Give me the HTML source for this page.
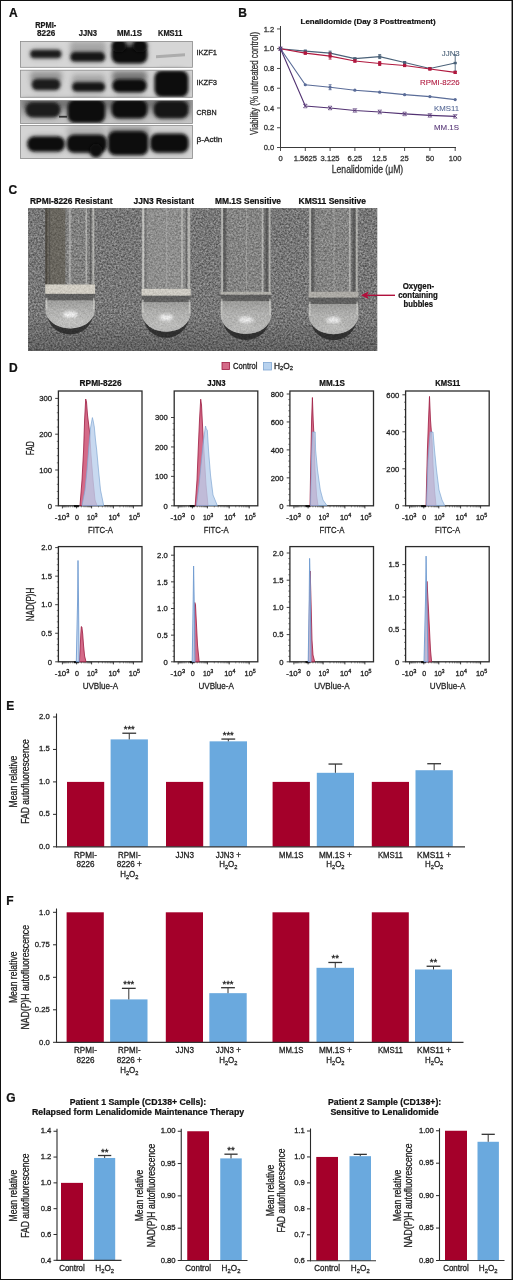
<!DOCTYPE html><html><head><meta charset="utf-8"><style>html,body{margin:0;padding:0;background:#fff;overflow:hidden;}svg{display:block;}</style></head><body>
<svg width="513" height="1280" viewBox="0 0 513 1280" style="will-change:transform" font-family='"Liberation Sans", sans-serif'>
<defs>
<filter id="bl1" x="-30%" y="-60%" width="160%" height="220%"><feGaussianBlur stdDeviation="1.6"/></filter>
<filter id="bl2" x="-30%" y="-60%" width="160%" height="220%"><feGaussianBlur stdDeviation="2.4"/></filter>
<filter id="bl05"><feGaussianBlur stdDeviation="0.6"/></filter>
<filter id="noise" x="0" y="0" width="100%" height="100%" color-interpolation-filters="sRGB">
 <feTurbulence type="fractalNoise" baseFrequency="0.55" numOctaves="3" seed="7" result="t"/>
 <feColorMatrix type="matrix" values="1.6 0 0 0 -0.3  1.6 0 0 0 -0.3  1.6 0 0 0 -0.3  0 0 0 0 1" result="m"/>
 <feComposite in="m" in2="SourceGraphic" operator="in"/>
</filter>
<linearGradient id="liq" x1="0" y1="0" x2="0" y2="1"><stop offset="0" stop-color="#929290"/><stop offset="0.45" stop-color="#b4b4b2"/><stop offset="1" stop-color="#d2d2d0"/></linearGradient>
<clipPath id="photo"><rect x="28" y="208" width="349.5" height="143"/></clipPath><linearGradient id="pshade" x1="0" y1="0" x2="0" y2="1"><stop offset="0" stop-color="#000" stop-opacity="0"/><stop offset="0.75" stop-color="#000" stop-opacity="0"/><stop offset="1" stop-color="#000" stop-opacity="0.2"/></linearGradient>
</defs>
<rect x="0.00" y="0.00" width="513.00" height="1280.00" fill="#ffffff"/>
<text x="8.90" y="17.20" font-size="12" text-anchor="start" font-weight="bold" fill="#111" stroke="#111" stroke-width="0.22">A</text>
<text x="238.30" y="17.20" font-size="12" text-anchor="start" font-weight="bold" fill="#111" stroke="#111" stroke-width="0.22">B</text>
<text x="8.50" y="194.00" font-size="12" text-anchor="start" font-weight="bold" fill="#111" stroke="#111" stroke-width="0.22">C</text>
<text x="9.00" y="372.20" font-size="12" text-anchor="start" font-weight="bold" fill="#111" stroke="#111" stroke-width="0.22">D</text>
<text x="6.30" y="709.90" font-size="12" text-anchor="start" font-weight="bold" fill="#111" stroke="#111" stroke-width="0.22">E</text>
<text x="6.30" y="905.40" font-size="12" text-anchor="start" font-weight="bold" fill="#111" stroke="#111" stroke-width="0.22">F</text>
<text x="6.30" y="1101.70" font-size="12" text-anchor="start" font-weight="bold" fill="#111" stroke="#111" stroke-width="0.22">G</text>
<defs><linearGradient id="s3g" x1="0" y1="0" x2="0" y2="1"><stop offset="0" stop-color="#9c9c9c"/><stop offset="0.6" stop-color="#b0b0b0"/><stop offset="1" stop-color="#c8c8c8"/></linearGradient><filter id="wb" x="-40%" y="-80%" width="180%" height="260%"><feGaussianBlur stdDeviation="1.7"/></filter><filter id="wb2" x="-40%" y="-80%" width="180%" height="260%"><feGaussianBlur stdDeviation="2.6"/></filter><clipPath id="wbclip"><rect x="20.5" y="41.5" width="172" height="25.8"/><rect x="20.5" y="70.2" width="172" height="27.1"/><rect x="20.5" y="100.4" width="172" height="23"/><rect x="20.5" y="125.5" width="172" height="33"/></clipPath></defs>
<rect x="20.50" y="41.50" width="172.00" height="25.80" fill="#d6d6d6"/>
<rect x="20.50" y="70.20" width="172.00" height="27.10" fill="#d3d3d3"/>
<rect x="20.50" y="100.40" width="172.00" height="23.00" fill="url(#s3g)"/>
<rect x="20.50" y="125.50" width="172.00" height="33.00" fill="#d4d4d4"/>
<g clip-path="url(#wbclip)">
<rect x="118" y="40" width="23" height="10" rx="4" fill="#6a6a6a" opacity="0.9" filter="url(#wb2)"/>
<rect x="70" y="41" width="36" height="13" rx="4" fill="#8a8a8a" opacity="0.6" filter="url(#wb2)"/>
<rect x="30" y="71" width="32" height="11" rx="4" fill="#7a7a7a" opacity="0.6" filter="url(#wb2)"/>
<rect x="112" y="71" width="35" height="11" rx="4" fill="#5a5a5a" opacity="0.7" filter="url(#wb2)"/>
<rect x="72" y="74" width="33" height="11" rx="4" fill="#8a8a8a" opacity="0.5" filter="url(#wb2)"/>
<rect x="22" y="99" width="168" height="10" rx="4" fill="#5a5a5a" opacity="0.6" filter="url(#wb2)"/>
<rect x="20" y="116" width="172" height="8" rx="4" fill="#c8c8c8" opacity="0.3" filter="url(#wb2)"/>
<rect x="108" y="126" width="42" height="10" rx="4" fill="#7a7a7a" opacity="0.55" filter="url(#wb2)"/>
<rect x="66" y="126" width="40" height="10" rx="4" fill="#9a9a9a" opacity="0.45" filter="url(#wb2)"/>
<rect x="29.60" y="48.30" width="32.40" height="11.30" rx="5.65" fill="#555" opacity="0.35" filter="url(#wb2)"/>
<rect x="69.60" y="50.40" width="36.20" height="12.90" rx="6.45" fill="#555" opacity="0.35" filter="url(#wb2)"/>
<rect x="110.90" y="44.50" width="37.10" height="20.50" rx="9.00" fill="#555" opacity="0.35" filter="url(#wb2)"/>
<rect x="110.90" y="38.00" width="16.10" height="16.00" rx="8.00" fill="#555" opacity="0.35" filter="url(#wb2)"/>
<rect x="132.00" y="38.00" width="16.00" height="16.00" rx="8.00" fill="#555" opacity="0.35" filter="url(#wb2)"/>
<rect x="111.50" y="77.50" width="36.00" height="16.50" rx="8.25" fill="#555" opacity="0.35" filter="url(#wb2)"/>
<rect x="31.00" y="77.30" width="30.10" height="14.30" rx="7.15" fill="#555" opacity="0.35" filter="url(#wb2)"/>
<rect x="71.40" y="80.50" width="34.40" height="12.80" rx="6.40" fill="#555" opacity="0.35" filter="url(#wb2)"/>
<rect x="153.90" y="69.00" width="35.00" height="29.50" rx="9.00" fill="#555" opacity="0.35" filter="url(#wb2)"/>
<rect x="24.90" y="100.50" width="36.20" height="18.50" rx="9.00" fill="#555" opacity="0.35" filter="url(#wb2)"/>
<rect x="67.00" y="98.00" width="38.80" height="26.50" rx="9.00" fill="#555" opacity="0.35" filter="url(#wb2)"/>
<rect x="110.90" y="98.00" width="37.10" height="22.00" rx="9.00" fill="#555" opacity="0.35" filter="url(#wb2)"/>
<rect x="153.00" y="99.00" width="36.20" height="21.00" rx="9.00" fill="#555" opacity="0.35" filter="url(#wb2)"/>
<rect x="26.60" y="134.80" width="38.90" height="18.50" rx="9.00" fill="#555" opacity="0.35" filter="url(#wb2)"/>
<rect x="66.10" y="133.00" width="41.50" height="21.30" rx="9.00" fill="#555" opacity="0.35" filter="url(#wb2)"/>
<rect x="89.00" y="142.00" width="14.00" height="17.00" rx="8.50" fill="#555" opacity="0.35" filter="url(#wb2)"/>
<rect x="107.40" y="129.50" width="41.50" height="27.30" rx="9.00" fill="#555" opacity="0.35" filter="url(#wb2)"/>
<rect x="149.50" y="132.00" width="39.70" height="22.30" rx="9.00" fill="#555" opacity="0.35" filter="url(#wb2)"/>
<rect x="30.40" y="50.00" width="30.80" height="7.90" rx="3.65" fill="#1a1a1a" filter="url(#wb)"/>
<rect x="70.40" y="52.10" width="34.60" height="9.50" rx="4.45" fill="#121212" filter="url(#wb)"/>
<rect x="111.70" y="46.20" width="35.50" height="17.10" rx="7.00" fill="#0a0a0a" filter="url(#wb)"/>
<rect x="111.70" y="39.70" width="14.50" height="12.60" rx="6.00" fill="#0e0e0e" filter="url(#wb)"/>
<rect x="132.80" y="39.70" width="14.40" height="12.60" rx="6.00" fill="#0e0e0e" filter="url(#wb)"/>
<rect x="112.30" y="79.20" width="34.40" height="13.10" rx="6.25" fill="#101010" filter="url(#wb)"/>
<rect x="31.80" y="79.00" width="28.50" height="10.90" rx="5.15" fill="#1c1c1c" filter="url(#wb)"/>
<rect x="72.20" y="82.20" width="32.80" height="9.40" rx="4.40" fill="#161616" filter="url(#wb)"/>
<rect x="154.70" y="70.70" width="33.40" height="26.10" rx="7.00" fill="#0c0c0c" filter="url(#wb)"/>
<rect x="25.70" y="102.20" width="34.60" height="15.10" rx="7.00" fill="#1c1c1c" filter="url(#wb)"/>
<rect x="67.80" y="99.70" width="37.20" height="23.10" rx="7.00" fill="#0c0c0c" filter="url(#wb)"/>
<rect x="111.70" y="99.70" width="35.50" height="18.60" rx="7.00" fill="#101010" filter="url(#wb)"/>
<rect x="153.80" y="100.70" width="34.60" height="17.60" rx="7.00" fill="#121212" filter="url(#wb)"/>
<rect x="27.40" y="136.50" width="37.30" height="15.10" rx="7.00" fill="#0e0e0e" filter="url(#wb)"/>
<rect x="66.90" y="134.70" width="39.90" height="17.90" rx="7.00" fill="#0a0a0a" filter="url(#wb)"/>
<rect x="89.80" y="143.70" width="12.40" height="13.60" rx="6.50" fill="#0e0e0e" filter="url(#wb)"/>
<rect x="108.20" y="131.20" width="39.90" height="23.90" rx="7.00" fill="#090909" filter="url(#wb)"/>
<rect x="150.30" y="133.70" width="38.10" height="18.90" rx="7.00" fill="#0c0c0c" filter="url(#wb)"/>
<path d="M156,55.2 L185,53.2 L185,56.2 L156,58.2 Z" fill="#acacac" filter="url(#bl05)"/>
<rect x="59" y="115.8" width="8" height="1.8" fill="#333" filter="url(#bl05)"/>
</g>
<rect x="20.50" y="41.50" width="172.00" height="25.80" fill="none" stroke="#8a8a8a" stroke-width="0.8"/>
<rect x="20.50" y="70.20" width="172.00" height="27.10" fill="none" stroke="#8a8a8a" stroke-width="0.8"/>
<rect x="20.50" y="100.40" width="172.00" height="23.00" fill="none" stroke="#8a8a8a" stroke-width="0.8"/>
<rect x="20.50" y="125.50" width="172.00" height="33.00" fill="none" stroke="#8a8a8a" stroke-width="0.8"/>
<text x="45.70" y="27.72" font-size="8.2" text-anchor="middle" font-weight="bold" textLength="21.00" lengthAdjust="spacingAndGlyphs" fill="#1a1a1a" stroke="#1a1a1a" stroke-width="0.22">RPMI-</text>
<text x="46.15" y="36.12" font-size="8.2" text-anchor="middle" font-weight="bold" textLength="18.10" lengthAdjust="spacingAndGlyphs" fill="#1a1a1a" stroke="#1a1a1a" stroke-width="0.22">8226</text>
<text x="87.95" y="36.12" font-size="8.2" text-anchor="middle" font-weight="bold" textLength="18.30" lengthAdjust="spacingAndGlyphs" fill="#1a1a1a" stroke="#1a1a1a" stroke-width="0.22">JJN3</text>
<text x="129.50" y="36.12" font-size="8.2" text-anchor="middle" font-weight="bold" textLength="25.00" lengthAdjust="spacingAndGlyphs" fill="#1a1a1a" stroke="#1a1a1a" stroke-width="0.22">MM.1S</text>
<text x="170.25" y="36.12" font-size="8.2" text-anchor="middle" font-weight="bold" textLength="24.50" lengthAdjust="spacingAndGlyphs" fill="#1a1a1a" stroke="#1a1a1a" stroke-width="0.22">KMS11</text>
<text x="196.40" y="54.94" font-size="8.1" text-anchor="start" textLength="20.60" lengthAdjust="spacingAndGlyphs" fill="#1a1a1a" stroke="#1a1a1a" stroke-width="0.28">IKZF1</text>
<text x="196.40" y="85.23" font-size="8.1" text-anchor="start" textLength="20.60" lengthAdjust="spacingAndGlyphs" fill="#1a1a1a" stroke="#1a1a1a" stroke-width="0.28">IKZF3</text>
<text x="196.40" y="115.23" font-size="8.1" text-anchor="start" textLength="20.20" lengthAdjust="spacingAndGlyphs" fill="#1a1a1a" stroke="#1a1a1a" stroke-width="0.28">CRBN</text>
<text x="196.40" y="142.14" font-size="8.1" text-anchor="start" textLength="26.00" lengthAdjust="spacingAndGlyphs" fill="#1a1a1a" stroke="#1a1a1a" stroke-width="0.28">β-Actin</text>
<line x1="280.50" y1="26.00" x2="280.50" y2="148.00" stroke="#3a3a3a" stroke-width="1"/>
<line x1="280.00" y1="147.50" x2="456.00" y2="147.50" stroke="#3a3a3a" stroke-width="1"/>
<line x1="277.00" y1="147.50" x2="280.50" y2="147.50" stroke="#3a3a3a" stroke-width="0.9"/>
<text x="274.20" y="150.10" font-size="7.6" text-anchor="end" fill="#333" stroke="#333" stroke-width="0.28">0.0</text>
<line x1="277.00" y1="127.74" x2="280.50" y2="127.74" stroke="#3a3a3a" stroke-width="0.9"/>
<text x="274.20" y="130.34" font-size="7.6" text-anchor="end" fill="#333" stroke="#333" stroke-width="0.28">0.2</text>
<line x1="277.00" y1="107.98" x2="280.50" y2="107.98" stroke="#3a3a3a" stroke-width="0.9"/>
<text x="274.20" y="110.58" font-size="7.6" text-anchor="end" fill="#333" stroke="#333" stroke-width="0.28">0.4</text>
<line x1="277.00" y1="88.22" x2="280.50" y2="88.22" stroke="#3a3a3a" stroke-width="0.9"/>
<text x="274.20" y="90.82" font-size="7.6" text-anchor="end" fill="#333" stroke="#333" stroke-width="0.28">0.6</text>
<line x1="277.00" y1="68.46" x2="280.50" y2="68.46" stroke="#3a3a3a" stroke-width="0.9"/>
<text x="274.20" y="71.06" font-size="7.6" text-anchor="end" fill="#333" stroke="#333" stroke-width="0.28">0.8</text>
<line x1="277.00" y1="48.70" x2="280.50" y2="48.70" stroke="#3a3a3a" stroke-width="0.9"/>
<text x="274.20" y="51.30" font-size="7.6" text-anchor="end" fill="#333" stroke="#333" stroke-width="0.28">1.0</text>
<line x1="277.00" y1="28.94" x2="280.50" y2="28.94" stroke="#3a3a3a" stroke-width="0.9"/>
<text x="274.20" y="31.54" font-size="7.6" text-anchor="end" fill="#333" stroke="#333" stroke-width="0.28">1.2</text>
<line x1="280.50" y1="147.50" x2="280.50" y2="151.00" stroke="#3a3a3a" stroke-width="0.9"/>
<text x="280.50" y="160.60" font-size="7.6" text-anchor="middle" fill="#333" stroke="#333" stroke-width="0.28">0</text>
<line x1="305.30" y1="147.50" x2="305.30" y2="151.00" stroke="#3a3a3a" stroke-width="0.9"/>
<text x="305.30" y="160.60" font-size="7.6" text-anchor="middle" fill="#333" stroke="#333" stroke-width="0.28">1.5625</text>
<line x1="330.10" y1="147.50" x2="330.10" y2="151.00" stroke="#3a3a3a" stroke-width="0.9"/>
<text x="330.10" y="160.60" font-size="7.6" text-anchor="middle" fill="#333" stroke="#333" stroke-width="0.28">3.125</text>
<line x1="354.90" y1="147.50" x2="354.90" y2="151.00" stroke="#3a3a3a" stroke-width="0.9"/>
<text x="354.90" y="160.60" font-size="7.6" text-anchor="middle" fill="#333" stroke="#333" stroke-width="0.28">6.25</text>
<line x1="379.70" y1="147.50" x2="379.70" y2="151.00" stroke="#3a3a3a" stroke-width="0.9"/>
<text x="379.70" y="160.60" font-size="7.6" text-anchor="middle" fill="#333" stroke="#333" stroke-width="0.28">12.5</text>
<line x1="404.60" y1="147.50" x2="404.60" y2="151.00" stroke="#3a3a3a" stroke-width="0.9"/>
<text x="404.60" y="160.60" font-size="7.6" text-anchor="middle" fill="#333" stroke="#333" stroke-width="0.28">25</text>
<line x1="429.90" y1="147.50" x2="429.90" y2="151.00" stroke="#3a3a3a" stroke-width="0.9"/>
<text x="429.90" y="160.60" font-size="7.6" text-anchor="middle" fill="#333" stroke="#333" stroke-width="0.28">50</text>
<line x1="455.20" y1="147.50" x2="455.20" y2="151.00" stroke="#3a3a3a" stroke-width="0.9"/>
<text x="455.20" y="160.60" font-size="7.6" text-anchor="middle" fill="#333" stroke="#333" stroke-width="0.28">100</text>
<text x="367.50" y="173.30" font-size="10.3" text-anchor="middle" textLength="71.40" lengthAdjust="spacingAndGlyphs" fill="#333" stroke="#333" stroke-width="0.28">Lenalidomide (μM)</text>
<text transform="translate(257.60,83.40) rotate(-90)" font-size="10.3" text-anchor="middle" textLength="103.00" lengthAdjust="spacingAndGlyphs" fill="#333" stroke="#333" stroke-width="0.28">Viability (% untreated control)</text>
<text x="300.60" y="23.90" font-size="8.1" text-anchor="start" font-weight="bold" textLength="135.00" lengthAdjust="spacingAndGlyphs" fill="#111" stroke="#111" stroke-width="0.22">Lenalidomide (Day 3 Posttreatment)</text>
<polyline points="280.5,48.70 305.3,51.17 330.1,53.15 354.9,58.58 379.7,56.60 404.6,62.53 429.9,68.46 455.2,63.03" fill="none" stroke="#4a6178" stroke-width="1.1"/>
<rect x="278.90" y="47.50" width="3.20" height="2.40" fill="#4a6178"/>
<line x1="305.30" y1="49.98" x2="305.30" y2="52.36" stroke="#4a6178" stroke-width="0.9"/>
<line x1="303.80" y1="49.98" x2="306.80" y2="49.98" stroke="#4a6178" stroke-width="0.9"/>
<line x1="303.80" y1="52.36" x2="306.80" y2="52.36" stroke="#4a6178" stroke-width="0.9"/>
<rect x="303.70" y="49.97" width="3.20" height="2.40" fill="#4a6178"/>
<line x1="330.10" y1="51.17" x2="330.10" y2="55.12" stroke="#4a6178" stroke-width="0.9"/>
<line x1="328.60" y1="51.17" x2="331.60" y2="51.17" stroke="#4a6178" stroke-width="0.9"/>
<line x1="328.60" y1="55.12" x2="331.60" y2="55.12" stroke="#4a6178" stroke-width="0.9"/>
<rect x="328.50" y="51.95" width="3.20" height="2.40" fill="#4a6178"/>
<line x1="354.90" y1="57.79" x2="354.90" y2="59.37" stroke="#4a6178" stroke-width="0.9"/>
<line x1="353.40" y1="57.79" x2="356.40" y2="57.79" stroke="#4a6178" stroke-width="0.9"/>
<line x1="353.40" y1="59.37" x2="356.40" y2="59.37" stroke="#4a6178" stroke-width="0.9"/>
<rect x="353.30" y="57.38" width="3.20" height="2.40" fill="#4a6178"/>
<line x1="379.70" y1="54.63" x2="379.70" y2="58.58" stroke="#4a6178" stroke-width="0.9"/>
<line x1="378.20" y1="54.63" x2="381.20" y2="54.63" stroke="#4a6178" stroke-width="0.9"/>
<line x1="378.20" y1="58.58" x2="381.20" y2="58.58" stroke="#4a6178" stroke-width="0.9"/>
<rect x="378.10" y="55.40" width="3.20" height="2.40" fill="#4a6178"/>
<line x1="404.60" y1="61.54" x2="404.60" y2="63.52" stroke="#4a6178" stroke-width="0.9"/>
<line x1="403.10" y1="61.54" x2="406.10" y2="61.54" stroke="#4a6178" stroke-width="0.9"/>
<line x1="403.10" y1="63.52" x2="406.10" y2="63.52" stroke="#4a6178" stroke-width="0.9"/>
<rect x="403.00" y="61.33" width="3.20" height="2.40" fill="#4a6178"/>
<line x1="429.90" y1="67.47" x2="429.90" y2="69.45" stroke="#4a6178" stroke-width="0.9"/>
<line x1="428.40" y1="67.47" x2="431.40" y2="67.47" stroke="#4a6178" stroke-width="0.9"/>
<line x1="428.40" y1="69.45" x2="431.40" y2="69.45" stroke="#4a6178" stroke-width="0.9"/>
<rect x="428.30" y="67.26" width="3.20" height="2.40" fill="#4a6178"/>
<line x1="455.20" y1="54.83" x2="455.20" y2="71.23" stroke="#4a6178" stroke-width="0.9"/>
<line x1="453.70" y1="54.83" x2="456.70" y2="54.83" stroke="#4a6178" stroke-width="0.9"/>
<line x1="453.70" y1="71.23" x2="456.70" y2="71.23" stroke="#4a6178" stroke-width="0.9"/>
<rect x="453.60" y="61.83" width="3.20" height="2.40" fill="#4a6178"/>
<polyline points="280.5,48.70 305.3,53.15 330.1,56.11 354.9,61.05 379.7,63.52 404.6,65.50 429.9,68.95 455.2,72.41" fill="none" stroke="#b0183e" stroke-width="1.1"/>
<rect x="278.90" y="47.10" width="3.20" height="3.20" fill="#b0183e"/>
<line x1="305.30" y1="52.16" x2="305.30" y2="54.13" stroke="#b0183e" stroke-width="0.9"/>
<line x1="303.80" y1="52.16" x2="306.80" y2="52.16" stroke="#b0183e" stroke-width="0.9"/>
<line x1="303.80" y1="54.13" x2="306.80" y2="54.13" stroke="#b0183e" stroke-width="0.9"/>
<rect x="303.70" y="51.55" width="3.20" height="3.20" fill="#b0183e"/>
<line x1="330.10" y1="53.15" x2="330.10" y2="59.07" stroke="#b0183e" stroke-width="0.9"/>
<line x1="328.60" y1="53.15" x2="331.60" y2="53.15" stroke="#b0183e" stroke-width="0.9"/>
<line x1="328.60" y1="59.07" x2="331.60" y2="59.07" stroke="#b0183e" stroke-width="0.9"/>
<rect x="328.50" y="54.51" width="3.20" height="3.20" fill="#b0183e"/>
<line x1="354.90" y1="60.06" x2="354.90" y2="62.04" stroke="#b0183e" stroke-width="0.9"/>
<line x1="353.40" y1="60.06" x2="356.40" y2="60.06" stroke="#b0183e" stroke-width="0.9"/>
<line x1="353.40" y1="62.04" x2="356.40" y2="62.04" stroke="#b0183e" stroke-width="0.9"/>
<rect x="353.30" y="59.45" width="3.20" height="3.20" fill="#b0183e"/>
<line x1="379.70" y1="61.54" x2="379.70" y2="65.50" stroke="#b0183e" stroke-width="0.9"/>
<line x1="378.20" y1="61.54" x2="381.20" y2="61.54" stroke="#b0183e" stroke-width="0.9"/>
<line x1="378.20" y1="65.50" x2="381.20" y2="65.50" stroke="#b0183e" stroke-width="0.9"/>
<rect x="378.10" y="61.92" width="3.20" height="3.20" fill="#b0183e"/>
<line x1="404.60" y1="64.51" x2="404.60" y2="66.48" stroke="#b0183e" stroke-width="0.9"/>
<line x1="403.10" y1="64.51" x2="406.10" y2="64.51" stroke="#b0183e" stroke-width="0.9"/>
<line x1="403.10" y1="66.48" x2="406.10" y2="66.48" stroke="#b0183e" stroke-width="0.9"/>
<rect x="403.00" y="63.90" width="3.20" height="3.20" fill="#b0183e"/>
<line x1="429.90" y1="67.97" x2="429.90" y2="69.94" stroke="#b0183e" stroke-width="0.9"/>
<line x1="428.40" y1="67.97" x2="431.40" y2="67.97" stroke="#b0183e" stroke-width="0.9"/>
<line x1="428.40" y1="69.94" x2="431.40" y2="69.94" stroke="#b0183e" stroke-width="0.9"/>
<rect x="428.30" y="67.35" width="3.20" height="3.20" fill="#b0183e"/>
<line x1="455.20" y1="71.42" x2="455.20" y2="73.40" stroke="#b0183e" stroke-width="0.9"/>
<line x1="453.70" y1="71.42" x2="456.70" y2="71.42" stroke="#b0183e" stroke-width="0.9"/>
<line x1="453.70" y1="73.40" x2="456.70" y2="73.40" stroke="#b0183e" stroke-width="0.9"/>
<rect x="453.60" y="70.81" width="3.20" height="3.20" fill="#b0183e"/>
<polyline points="280.5,48.70 305.3,84.76 330.1,87.23 354.9,90.20 379.7,92.17 404.6,94.64 429.9,96.62 455.2,99.58" fill="none" stroke="#5a6c98" stroke-width="1.1"/>
<circle cx="280.5" cy="48.70" r="1.6" fill="#5a6c98"/>
<circle cx="305.3" cy="84.76" r="1.6" fill="#5a6c98"/>
<line x1="330.10" y1="84.76" x2="330.10" y2="89.70" stroke="#5a6c98" stroke-width="0.9"/>
<line x1="328.60" y1="84.76" x2="331.60" y2="84.76" stroke="#5a6c98" stroke-width="0.9"/>
<line x1="328.60" y1="89.70" x2="331.60" y2="89.70" stroke="#5a6c98" stroke-width="0.9"/>
<circle cx="330.1" cy="87.23" r="1.6" fill="#5a6c98"/>
<circle cx="354.9" cy="90.20" r="1.6" fill="#5a6c98"/>
<circle cx="379.7" cy="92.17" r="1.6" fill="#5a6c98"/>
<circle cx="404.6" cy="94.64" r="1.6" fill="#5a6c98"/>
<circle cx="429.9" cy="96.62" r="1.6" fill="#5a6c98"/>
<circle cx="455.2" cy="99.58" r="1.6" fill="#5a6c98"/>
<polyline points="280.5,48.70 305.3,106.00 330.1,107.98 354.9,110.45 379.7,111.93 404.6,113.91 429.9,115.39 455.2,116.38" fill="none" stroke="#523272" stroke-width="1.1"/>
<path d="M278.7,46.900000000000006 L282.3,50.5 M278.7,50.5 L282.3,46.900000000000006" stroke="#523272" stroke-width="0.9"/>
<line x1="278.70" y1="46.90" x2="282.30" y2="46.90" stroke="#523272" stroke-width="0.6"/>
<line x1="278.70" y1="50.50" x2="282.30" y2="50.50" stroke="#523272" stroke-width="0.6"/>
<path d="M303.5,104.20400000000001 L307.1,107.804 M303.5,107.804 L307.1,104.20400000000001" stroke="#523272" stroke-width="0.9"/>
<line x1="303.50" y1="104.20" x2="307.10" y2="104.20" stroke="#523272" stroke-width="0.6"/>
<line x1="303.50" y1="107.80" x2="307.10" y2="107.80" stroke="#523272" stroke-width="0.6"/>
<path d="M328.3,106.17999999999999 L331.90000000000003,109.77999999999999 M328.3,109.77999999999999 L331.90000000000003,106.17999999999999" stroke="#523272" stroke-width="0.9"/>
<line x1="328.30" y1="106.18" x2="331.90" y2="106.18" stroke="#523272" stroke-width="0.6"/>
<line x1="328.30" y1="109.78" x2="331.90" y2="109.78" stroke="#523272" stroke-width="0.6"/>
<path d="M353.09999999999997,108.65 L356.7,112.25 M353.09999999999997,112.25 L356.7,108.65" stroke="#523272" stroke-width="0.9"/>
<line x1="353.10" y1="108.65" x2="356.70" y2="108.65" stroke="#523272" stroke-width="0.6"/>
<line x1="353.10" y1="112.25" x2="356.70" y2="112.25" stroke="#523272" stroke-width="0.6"/>
<path d="M377.9,110.132 L381.5,113.732 M377.9,113.732 L381.5,110.132" stroke="#523272" stroke-width="0.9"/>
<line x1="377.90" y1="110.13" x2="381.50" y2="110.13" stroke="#523272" stroke-width="0.6"/>
<line x1="377.90" y1="113.73" x2="381.50" y2="113.73" stroke="#523272" stroke-width="0.6"/>
<path d="M402.8,112.108 L406.40000000000003,115.708 M402.8,115.708 L406.40000000000003,112.108" stroke="#523272" stroke-width="0.9"/>
<line x1="402.80" y1="112.11" x2="406.40" y2="112.11" stroke="#523272" stroke-width="0.6"/>
<line x1="402.80" y1="115.71" x2="406.40" y2="115.71" stroke="#523272" stroke-width="0.6"/>
<path d="M428.09999999999997,113.59 L431.7,117.19 M428.09999999999997,117.19 L431.7,113.59" stroke="#523272" stroke-width="0.9"/>
<line x1="428.10" y1="113.59" x2="431.70" y2="113.59" stroke="#523272" stroke-width="0.6"/>
<line x1="428.10" y1="117.19" x2="431.70" y2="117.19" stroke="#523272" stroke-width="0.6"/>
<path d="M453.4,114.578 L457.0,118.178 M453.4,118.178 L457.0,114.578" stroke="#523272" stroke-width="0.9"/>
<line x1="453.40" y1="114.58" x2="457.00" y2="114.58" stroke="#523272" stroke-width="0.6"/>
<line x1="453.40" y1="118.18" x2="457.00" y2="118.18" stroke="#523272" stroke-width="0.6"/>
<text x="459.75" y="56.00" font-size="7.6" text-anchor="end" textLength="17.90" lengthAdjust="spacingAndGlyphs" fill="#4a6178" stroke="#4a6178" stroke-width="0.1">JJN3</text>
<text x="459.75" y="85.00" font-size="7.6" text-anchor="end" textLength="39.75" lengthAdjust="spacingAndGlyphs" fill="#b0183e" stroke="#b0183e" stroke-width="0.1">RPMI-8226</text>
<text x="459.00" y="111.40" font-size="7.6" text-anchor="end" textLength="25.00" lengthAdjust="spacingAndGlyphs" fill="#5a6c98" stroke="#5a6c98" stroke-width="0.1">KMS11</text>
<text x="459.00" y="129.70" font-size="7.6" text-anchor="end" textLength="25.00" lengthAdjust="spacingAndGlyphs" fill="#583878" stroke="#583878" stroke-width="0.1">MM.1S</text>
<g clip-path="url(#photo)">
<rect x="28.00" y="208.00" width="349.50" height="143.00" fill="#737373"/>
<rect x="28" y="208" width="349.5" height="143" fill="#fff" filter="url(#noise)" opacity="0.32"/>
<path d="M46.3,309.5 A23.85,19 0 0 0 94,309.5 L93,313.5 A21.85,20 0 0 1 47.3,313.5 Z" fill="#262626" opacity="0.8" filter="url(#bl05)"/>
<rect x="45.3" y="208" width="49.7" height="76.5" fill="#c4c4c0" opacity="0.12"/>
<rect x="45.30" y="208.00" width="20.00" height="76.50" fill="#4e4838" opacity="0.45"/>
<rect x="45.30" y="208.00" width="2.00" height="76.50" fill="#2e2a24" opacity="0.5"/>
<rect x="68.80" y="208.00" width="1.60" height="76.50" fill="#d8d8d4" opacity="0.45"/>
<rect x="48.90" y="208.00" width="1.20" height="76.50" fill="#3e3e3e" opacity="0.4"/>
<rect x="85.50" y="208.00" width="1.60" height="76.50" fill="#dcdcd8" opacity="0.5"/>
<rect x="92.40" y="208.00" width="1.80" height="76.50" fill="#d8d8d4" opacity="0.55"/>
<rect x="90.00" y="208.00" width="1.30" height="76.50" fill="#3a3a3a" opacity="0.45"/>
<rect x="70.15" y="208.00" width="1.20" height="76.50" fill="#d0d0cc" opacity="0.3"/>
<path d="M45.3,293.8 L95,293.8 L95,309.5 A24.85,19 0 0 1 45.3,309.5 Z" fill="url(#liq)"/>
<rect x="45.3" y="293.8" width="49.7" height="6.5" fill="#424242" opacity="0.7" filter="url(#bl05)"/>
<ellipse cx="70.2" cy="314.5" rx="7.5" ry="3.2" fill="#ffffff" opacity="0.95" filter="url(#bl1)"/>
<ellipse cx="70.2" cy="322.5" rx="14.9" ry="3" fill="#d8d8d6" opacity="0.6" filter="url(#bl1)"/>
<rect x="45.80" y="297.80" width="1.50" height="11.70" fill="#e4e4e0" opacity="0.6"/>
<rect x="93.00" y="297.80" width="1.50" height="11.70" fill="#e4e4e0" opacity="0.6"/>
<rect x="45.30" y="284.50" width="49.70" height="9.30" fill="#dcd8cc"/>
<rect x="45.3" y="284.5" width="49.7" height="44.0" fill="#fff" filter="url(#noise)" opacity="0.12" clip-path="url(#tc045)"/>
<clipPath id="tc045"><path d="M45.3,284.5 L95,284.5 L95,309.5 A24.85,19 0 0 1 45.3,309.5 Z"/></clipPath>
<path d="M142.6,312.8 A23.549999999999997,19 0 0 0 189.7,312.8 L188.7,316.8 A21.549999999999997,20 0 0 1 143.6,316.8 Z" fill="#262626" opacity="0.8" filter="url(#bl05)"/>
<rect x="141.6" y="208" width="49.099999999999994" height="80.80000000000001" fill="#c4c4c0" opacity="0.3"/>
<rect x="142.20" y="208.00" width="1.80" height="80.80" fill="#e2e2de" opacity="0.6"/>
<rect x="145.20" y="208.00" width="1.20" height="80.80" fill="#3e3e3e" opacity="0.4"/>
<rect x="181.20" y="208.00" width="1.60" height="80.80" fill="#dcdcd8" opacity="0.5"/>
<rect x="188.10" y="208.00" width="1.80" height="80.80" fill="#d8d8d4" opacity="0.55"/>
<rect x="185.70" y="208.00" width="1.30" height="80.80" fill="#3a3a3a" opacity="0.45"/>
<rect x="166.15" y="208.00" width="1.20" height="80.80" fill="#d0d0cc" opacity="0.3"/>
<path d="M141.6,295.6 L190.7,295.6 L190.7,312.8 A24.549999999999997,19 0 0 1 141.6,312.8 Z" fill="url(#liq)"/>
<rect x="141.6" y="295.6" width="49.099999999999994" height="6.5" fill="#424242" opacity="0.7" filter="url(#bl05)"/>
<ellipse cx="166.1" cy="317.8" rx="7.4" ry="3.2" fill="#ffffff" opacity="0.95" filter="url(#bl1)"/>
<ellipse cx="166.1" cy="325.8" rx="14.7" ry="3" fill="#d8d8d6" opacity="0.6" filter="url(#bl1)"/>
<rect x="142.10" y="299.60" width="1.50" height="13.20" fill="#e4e4e0" opacity="0.6"/>
<rect x="188.70" y="299.60" width="1.50" height="13.20" fill="#e4e4e0" opacity="0.6"/>
<rect x="141.60" y="288.80" width="49.10" height="6.80" fill="#d8d4cb"/>
<rect x="141.6" y="288.8" width="49.099999999999994" height="43.0" fill="#fff" filter="url(#noise)" opacity="0.12" clip-path="url(#tc1141)"/>
<clipPath id="tc1141"><path d="M141.6,288.8 L190.7,288.8 L190.7,312.8 A24.549999999999997,19 0 0 1 141.6,312.8 Z"/></clipPath>
<path d="M221.6,315 A24.299999999999997,19 0 0 0 270.2,315 L269.2,319 A22.299999999999997,20 0 0 1 222.6,319 Z" fill="#262626" opacity="0.8" filter="url(#bl05)"/>
<rect x="220.6" y="208" width="50.599999999999994" height="83.80000000000001" fill="#c4c4c0" opacity="0.16"/>
<rect x="221.60" y="208.00" width="5.00" height="83.80" fill="#3a3a3a" opacity="0.35"/>
<rect x="264.20" y="208.00" width="5.00" height="83.80" fill="#3a3a3a" opacity="0.35"/>
<rect x="221.20" y="208.00" width="1.80" height="83.80" fill="#e2e2de" opacity="0.6"/>
<rect x="224.20" y="208.00" width="1.20" height="83.80" fill="#3e3e3e" opacity="0.4"/>
<rect x="261.70" y="208.00" width="1.60" height="83.80" fill="#dcdcd8" opacity="0.5"/>
<rect x="268.60" y="208.00" width="1.80" height="83.80" fill="#d8d8d4" opacity="0.55"/>
<rect x="266.20" y="208.00" width="1.30" height="83.80" fill="#3a3a3a" opacity="0.45"/>
<rect x="245.90" y="208.00" width="1.20" height="83.80" fill="#d0d0cc" opacity="0.3"/>
<path d="M220.6,294.6 L271.2,294.6 L271.2,315.0 A25.299999999999997,19 0 0 1 220.6,315.0 Z" fill="url(#liq)"/>
<rect x="220.6" y="294.6" width="50.599999999999994" height="6.5" fill="#424242" opacity="0.7" filter="url(#bl05)"/>
<ellipse cx="245.9" cy="320.0" rx="7.6" ry="3.2" fill="#ffffff" opacity="0.95" filter="url(#bl1)"/>
<ellipse cx="245.9" cy="328.0" rx="15.2" ry="3" fill="#d8d8d6" opacity="0.6" filter="url(#bl1)"/>
<rect x="221.10" y="298.60" width="1.50" height="16.40" fill="#e4e4e0" opacity="0.6"/>
<rect x="269.20" y="298.60" width="1.50" height="16.40" fill="#e4e4e0" opacity="0.6"/>
<rect x="220.60" y="291.80" width="50.60" height="2.80" fill="#b6b4ae"/>
<rect x="220.6" y="291.8" width="50.599999999999994" height="42.19999999999999" fill="#fff" filter="url(#noise)" opacity="0.12" clip-path="url(#tc2220)"/>
<clipPath id="tc2220"><path d="M220.6,291.8 L271.2,291.8 L271.2,315.0 A25.299999999999997,19 0 0 1 220.6,315.0 Z"/></clipPath>
<path d="M309.6,315.3 A23.899999999999977,19 0 0 0 357.4,315.3 L356.4,319.3 A21.899999999999977,20 0 0 1 310.6,319.3 Z" fill="#262626" opacity="0.8" filter="url(#bl05)"/>
<rect x="308.6" y="208" width="49.799999999999955" height="83.80000000000001" fill="#c4c4c0" opacity="0.16"/>
<rect x="309.60" y="208.00" width="5.00" height="83.80" fill="#3a3a3a" opacity="0.35"/>
<rect x="351.40" y="208.00" width="5.00" height="83.80" fill="#3a3a3a" opacity="0.35"/>
<rect x="309.20" y="208.00" width="1.80" height="83.80" fill="#e2e2de" opacity="0.6"/>
<rect x="312.20" y="208.00" width="1.20" height="83.80" fill="#3e3e3e" opacity="0.4"/>
<rect x="348.90" y="208.00" width="1.60" height="83.80" fill="#dcdcd8" opacity="0.5"/>
<rect x="355.80" y="208.00" width="1.80" height="83.80" fill="#d8d8d4" opacity="0.55"/>
<rect x="353.40" y="208.00" width="1.30" height="83.80" fill="#3a3a3a" opacity="0.45"/>
<rect x="333.50" y="208.00" width="1.20" height="83.80" fill="#d0d0cc" opacity="0.3"/>
<path d="M308.6,297.5 L358.4,297.5 L358.4,315.3 A24.899999999999977,19 0 0 1 308.6,315.3 Z" fill="url(#liq)"/>
<rect x="308.6" y="297.5" width="49.799999999999955" height="6.5" fill="#424242" opacity="0.7" filter="url(#bl05)"/>
<ellipse cx="333.5" cy="320.3" rx="7.5" ry="3.2" fill="#ffffff" opacity="0.95" filter="url(#bl1)"/>
<ellipse cx="333.5" cy="328.3" rx="14.9" ry="3" fill="#d8d8d6" opacity="0.6" filter="url(#bl1)"/>
<rect x="309.10" y="301.50" width="1.50" height="13.80" fill="#e4e4e0" opacity="0.6"/>
<rect x="356.40" y="301.50" width="1.50" height="13.80" fill="#e4e4e0" opacity="0.6"/>
<rect x="308.60" y="291.80" width="49.80" height="5.70" fill="#b2b0aa"/>
<rect x="308.6" y="291.8" width="49.799999999999955" height="42.5" fill="#fff" filter="url(#noise)" opacity="0.12" clip-path="url(#tc2308)"/>
<clipPath id="tc2308"><path d="M308.6,291.8 L358.4,291.8 L358.4,315.3 A24.899999999999977,19 0 0 1 308.6,315.3 Z"/></clipPath>
<rect x="28" y="208" width="349.5" height="143" fill="url(#pshade)"/>
</g>
<text x="30.00" y="203.75" font-size="9" text-anchor="start" font-weight="bold" textLength="82.50" lengthAdjust="spacingAndGlyphs" fill="#111" stroke="#111" stroke-width="0.22">RPMI-8226 Resistant</text>
<text x="133.50" y="203.75" font-size="9" text-anchor="start" font-weight="bold" textLength="60.50" lengthAdjust="spacingAndGlyphs" fill="#111" stroke="#111" stroke-width="0.22">JJN3 Resistant</text>
<text x="215.00" y="203.75" font-size="9" text-anchor="start" font-weight="bold" textLength="66.00" lengthAdjust="spacingAndGlyphs" fill="#111" stroke="#111" stroke-width="0.22">MM.1S Sensitive</text>
<text x="298.50" y="203.75" font-size="9" text-anchor="start" font-weight="bold" textLength="67.50" lengthAdjust="spacingAndGlyphs" fill="#111" stroke="#111" stroke-width="0.22">KMS11 Sensitive</text>
<line x1="364.00" y1="295.30" x2="395.00" y2="295.30" stroke="#b0103c" stroke-width="1.4"/>
<path d="M361,295.3 L368.5,291.5 L367,295.3 L368.5,299.1 Z" fill="#b0103c"/>
<text x="418.40" y="288.60" font-size="8.3" text-anchor="middle" font-weight="bold" textLength="31.40" lengthAdjust="spacingAndGlyphs" fill="#111" stroke="#111" stroke-width="0.22">Oxygen-</text>
<text x="418.00" y="297.90" font-size="8.3" text-anchor="middle" font-weight="bold" textLength="39.50" lengthAdjust="spacingAndGlyphs" fill="#111" stroke="#111" stroke-width="0.22">containing</text>
<text x="418.30" y="307.10" font-size="8.3" text-anchor="middle" font-weight="bold" textLength="29.40" lengthAdjust="spacingAndGlyphs" fill="#111" stroke="#111" stroke-width="0.22">bubbles</text>
<rect x="222.00" y="362.50" width="7.50" height="7.00" fill="#d46a88" stroke="#9c1a40" stroke-width="0.8"/>
<text x="233.00" y="368.87" font-size="8.2" text-anchor="start" textLength="24.50" lengthAdjust="spacingAndGlyphs" fill="#222" stroke="#222" stroke-width="0.28">Control</text>
<rect x="263.50" y="362.50" width="8.00" height="7.50" fill="#b8d2ee" stroke="#7fa6d2" stroke-width="0.8"/>
<text x="274.00" y="368.87" font-size="8.2" text-anchor="start" textLength="19.00" lengthAdjust="spacingAndGlyphs" fill="#222" stroke="#222" stroke-width="0.28">H<tspan font-size="70%" dy="1.5">2</tspan><tspan dy="-1.5">O</tspan><tspan font-size="70%" dy="1.5">2</tspan></text>
<rect x="58.40" y="391.00" width="83.60" height="114.80" fill="none" stroke="#2b2b2b" stroke-width="1.3"/>
<line x1="55.20" y1="505.80" x2="58.40" y2="505.80" stroke="#2b2b2b" stroke-width="0.9"/>
<text x="52.00" y="508.50" font-size="7.7" text-anchor="end" fill="#222" stroke="#222" stroke-width="0.28">0</text>
<line x1="55.20" y1="470.00" x2="58.40" y2="470.00" stroke="#2b2b2b" stroke-width="0.9"/>
<text x="52.00" y="472.70" font-size="7.7" text-anchor="end" fill="#222" stroke="#222" stroke-width="0.28">100</text>
<line x1="55.20" y1="434.20" x2="58.40" y2="434.20" stroke="#2b2b2b" stroke-width="0.9"/>
<text x="52.00" y="436.90" font-size="7.7" text-anchor="end" fill="#222" stroke="#222" stroke-width="0.28">200</text>
<line x1="55.20" y1="398.40" x2="58.40" y2="398.40" stroke="#2b2b2b" stroke-width="0.9"/>
<text x="52.00" y="401.10" font-size="7.7" text-anchor="end" fill="#222" stroke="#222" stroke-width="0.28">300</text>
<line x1="56.80" y1="498.64" x2="58.40" y2="498.64" stroke="#2b2b2b" stroke-width="0.6"/>
<line x1="56.80" y1="491.48" x2="58.40" y2="491.48" stroke="#2b2b2b" stroke-width="0.6"/>
<line x1="56.80" y1="484.32" x2="58.40" y2="484.32" stroke="#2b2b2b" stroke-width="0.6"/>
<line x1="56.80" y1="477.16" x2="58.40" y2="477.16" stroke="#2b2b2b" stroke-width="0.6"/>
<line x1="56.80" y1="462.84" x2="58.40" y2="462.84" stroke="#2b2b2b" stroke-width="0.6"/>
<line x1="56.80" y1="455.68" x2="58.40" y2="455.68" stroke="#2b2b2b" stroke-width="0.6"/>
<line x1="56.80" y1="448.52" x2="58.40" y2="448.52" stroke="#2b2b2b" stroke-width="0.6"/>
<line x1="56.80" y1="441.36" x2="58.40" y2="441.36" stroke="#2b2b2b" stroke-width="0.6"/>
<line x1="56.80" y1="427.04" x2="58.40" y2="427.04" stroke="#2b2b2b" stroke-width="0.6"/>
<line x1="56.80" y1="419.88" x2="58.40" y2="419.88" stroke="#2b2b2b" stroke-width="0.6"/>
<line x1="56.80" y1="412.72" x2="58.40" y2="412.72" stroke="#2b2b2b" stroke-width="0.6"/>
<line x1="56.80" y1="405.56" x2="58.40" y2="405.56" stroke="#2b2b2b" stroke-width="0.6"/>
<line x1="62.40" y1="505.80" x2="62.40" y2="508.40" stroke="#2b2b2b" stroke-width="0.9"/>
<line x1="76.60" y1="505.80" x2="76.60" y2="508.40" stroke="#2b2b2b" stroke-width="0.9"/>
<line x1="91.60" y1="505.80" x2="91.60" y2="508.40" stroke="#2b2b2b" stroke-width="0.9"/>
<line x1="113.40" y1="505.80" x2="113.40" y2="508.40" stroke="#2b2b2b" stroke-width="0.9"/>
<line x1="133.40" y1="505.80" x2="133.40" y2="508.40" stroke="#2b2b2b" stroke-width="0.9"/>
<line x1="98.52" y1="505.80" x2="98.52" y2="507.40" stroke="#2b2b2b" stroke-width="0.5"/>
<line x1="102.40" y1="505.80" x2="102.40" y2="507.40" stroke="#2b2b2b" stroke-width="0.5"/>
<line x1="105.15" y1="505.80" x2="105.15" y2="507.40" stroke="#2b2b2b" stroke-width="0.5"/>
<line x1="107.28" y1="505.80" x2="107.28" y2="507.40" stroke="#2b2b2b" stroke-width="0.5"/>
<line x1="109.02" y1="505.80" x2="109.02" y2="507.40" stroke="#2b2b2b" stroke-width="0.5"/>
<line x1="110.49" y1="505.80" x2="110.49" y2="507.40" stroke="#2b2b2b" stroke-width="0.5"/>
<line x1="111.77" y1="505.80" x2="111.77" y2="507.40" stroke="#2b2b2b" stroke-width="0.5"/>
<line x1="112.89" y1="505.80" x2="112.89" y2="507.40" stroke="#2b2b2b" stroke-width="0.5"/>
<line x1="119.92" y1="505.80" x2="119.92" y2="507.40" stroke="#2b2b2b" stroke-width="0.5"/>
<line x1="123.44" y1="505.80" x2="123.44" y2="507.40" stroke="#2b2b2b" stroke-width="0.5"/>
<line x1="125.94" y1="505.80" x2="125.94" y2="507.40" stroke="#2b2b2b" stroke-width="0.5"/>
<line x1="127.88" y1="505.80" x2="127.88" y2="507.40" stroke="#2b2b2b" stroke-width="0.5"/>
<line x1="129.46" y1="505.80" x2="129.46" y2="507.40" stroke="#2b2b2b" stroke-width="0.5"/>
<line x1="130.80" y1="505.80" x2="130.80" y2="507.40" stroke="#2b2b2b" stroke-width="0.5"/>
<line x1="131.96" y1="505.80" x2="131.96" y2="507.40" stroke="#2b2b2b" stroke-width="0.5"/>
<line x1="132.98" y1="505.80" x2="132.98" y2="507.40" stroke="#2b2b2b" stroke-width="0.5"/>
<line x1="81.42" y1="505.80" x2="81.42" y2="507.40" stroke="#2b2b2b" stroke-width="0.5"/>
<line x1="84.06" y1="505.80" x2="84.06" y2="507.40" stroke="#2b2b2b" stroke-width="0.5"/>
<line x1="85.93" y1="505.80" x2="85.93" y2="507.40" stroke="#2b2b2b" stroke-width="0.5"/>
<line x1="87.38" y1="505.80" x2="87.38" y2="507.40" stroke="#2b2b2b" stroke-width="0.5"/>
<line x1="88.57" y1="505.80" x2="88.57" y2="507.40" stroke="#2b2b2b" stroke-width="0.5"/>
<line x1="89.58" y1="505.80" x2="89.58" y2="507.40" stroke="#2b2b2b" stroke-width="0.5"/>
<line x1="90.45" y1="505.80" x2="90.45" y2="507.40" stroke="#2b2b2b" stroke-width="0.5"/>
<line x1="91.21" y1="505.80" x2="91.21" y2="507.40" stroke="#2b2b2b" stroke-width="0.5"/>
<line x1="72.69" y1="505.80" x2="72.69" y2="507.40" stroke="#2b2b2b" stroke-width="0.5"/>
<line x1="70.22" y1="505.80" x2="70.22" y2="507.40" stroke="#2b2b2b" stroke-width="0.5"/>
<line x1="68.47" y1="505.80" x2="68.47" y2="507.40" stroke="#2b2b2b" stroke-width="0.5"/>
<line x1="67.11" y1="505.80" x2="67.11" y2="507.40" stroke="#2b2b2b" stroke-width="0.5"/>
<line x1="66.01" y1="505.80" x2="66.01" y2="507.40" stroke="#2b2b2b" stroke-width="0.5"/>
<line x1="65.07" y1="505.80" x2="65.07" y2="507.40" stroke="#2b2b2b" stroke-width="0.5"/>
<line x1="64.26" y1="505.80" x2="64.26" y2="507.40" stroke="#2b2b2b" stroke-width="0.5"/>
<line x1="63.54" y1="505.80" x2="63.54" y2="507.40" stroke="#2b2b2b" stroke-width="0.5"/>
<rect x="73.90" y="505.00" width="5" height="2.2" fill="#111"/>
<text x="54.80" y="519.90" font-size="7.1" text-anchor="start" textLength="14.50" lengthAdjust="spacingAndGlyphs" fill="#222" stroke="#222" stroke-width="0.28">-10<tspan font-size="72%" dy="-2.7">3</tspan></text>
<text x="77.00" y="519.90" font-size="7.1" text-anchor="middle" fill="#222" stroke="#222" stroke-width="0.28">0</text>
<text x="87.10" y="519.90" font-size="7.1" text-anchor="start" textLength="10.30" lengthAdjust="spacingAndGlyphs" fill="#222" stroke="#222" stroke-width="0.28">10<tspan font-size="72%" dy="-2.7">3</tspan></text>
<text x="108.40" y="519.90" font-size="7.1" text-anchor="start" textLength="11.30" lengthAdjust="spacingAndGlyphs" fill="#222" stroke="#222" stroke-width="0.28">10<tspan font-size="72%" dy="-2.7">4</tspan></text>
<text x="128.80" y="519.90" font-size="7.1" text-anchor="start" textLength="11.20" lengthAdjust="spacingAndGlyphs" fill="#222" stroke="#222" stroke-width="0.28">10<tspan font-size="72%" dy="-2.7">5</tspan></text>
<text x="100.40" y="532.90" font-size="9.9" text-anchor="middle" textLength="25.00" lengthAdjust="spacingAndGlyphs" fill="#222" stroke="#222" stroke-width="0.28">FITC-A</text>
<rect x="58.40" y="546.60" width="83.60" height="115.20" fill="none" stroke="#2b2b2b" stroke-width="1.3"/>
<line x1="55.20" y1="661.80" x2="58.40" y2="661.80" stroke="#2b2b2b" stroke-width="0.9"/>
<text x="52.00" y="664.50" font-size="7.7" text-anchor="end" fill="#222" stroke="#222" stroke-width="0.28">0</text>
<line x1="55.20" y1="633.25" x2="58.40" y2="633.25" stroke="#2b2b2b" stroke-width="0.9"/>
<text x="52.00" y="635.95" font-size="7.7" text-anchor="end" fill="#222" stroke="#222" stroke-width="0.28">0.5</text>
<line x1="55.20" y1="604.70" x2="58.40" y2="604.70" stroke="#2b2b2b" stroke-width="0.9"/>
<text x="52.00" y="607.40" font-size="7.7" text-anchor="end" fill="#222" stroke="#222" stroke-width="0.28">1.0</text>
<line x1="55.20" y1="576.15" x2="58.40" y2="576.15" stroke="#2b2b2b" stroke-width="0.9"/>
<text x="52.00" y="578.85" font-size="7.7" text-anchor="end" fill="#222" stroke="#222" stroke-width="0.28">1.5</text>
<line x1="55.20" y1="547.60" x2="58.40" y2="547.60" stroke="#2b2b2b" stroke-width="0.9"/>
<text x="52.00" y="550.30" font-size="7.7" text-anchor="end" fill="#222" stroke="#222" stroke-width="0.28">2.0</text>
<line x1="56.80" y1="656.09" x2="58.40" y2="656.09" stroke="#2b2b2b" stroke-width="0.6"/>
<line x1="56.80" y1="650.38" x2="58.40" y2="650.38" stroke="#2b2b2b" stroke-width="0.6"/>
<line x1="56.80" y1="644.67" x2="58.40" y2="644.67" stroke="#2b2b2b" stroke-width="0.6"/>
<line x1="56.80" y1="638.96" x2="58.40" y2="638.96" stroke="#2b2b2b" stroke-width="0.6"/>
<line x1="56.80" y1="627.54" x2="58.40" y2="627.54" stroke="#2b2b2b" stroke-width="0.6"/>
<line x1="56.80" y1="621.83" x2="58.40" y2="621.83" stroke="#2b2b2b" stroke-width="0.6"/>
<line x1="56.80" y1="616.12" x2="58.40" y2="616.12" stroke="#2b2b2b" stroke-width="0.6"/>
<line x1="56.80" y1="610.41" x2="58.40" y2="610.41" stroke="#2b2b2b" stroke-width="0.6"/>
<line x1="56.80" y1="598.99" x2="58.40" y2="598.99" stroke="#2b2b2b" stroke-width="0.6"/>
<line x1="56.80" y1="593.28" x2="58.40" y2="593.28" stroke="#2b2b2b" stroke-width="0.6"/>
<line x1="56.80" y1="587.57" x2="58.40" y2="587.57" stroke="#2b2b2b" stroke-width="0.6"/>
<line x1="56.80" y1="581.86" x2="58.40" y2="581.86" stroke="#2b2b2b" stroke-width="0.6"/>
<line x1="56.80" y1="570.44" x2="58.40" y2="570.44" stroke="#2b2b2b" stroke-width="0.6"/>
<line x1="56.80" y1="564.73" x2="58.40" y2="564.73" stroke="#2b2b2b" stroke-width="0.6"/>
<line x1="56.80" y1="559.02" x2="58.40" y2="559.02" stroke="#2b2b2b" stroke-width="0.6"/>
<line x1="56.80" y1="553.31" x2="58.40" y2="553.31" stroke="#2b2b2b" stroke-width="0.6"/>
<line x1="62.40" y1="661.80" x2="62.40" y2="664.40" stroke="#2b2b2b" stroke-width="0.9"/>
<line x1="76.60" y1="661.80" x2="76.60" y2="664.40" stroke="#2b2b2b" stroke-width="0.9"/>
<line x1="91.60" y1="661.80" x2="91.60" y2="664.40" stroke="#2b2b2b" stroke-width="0.9"/>
<line x1="113.40" y1="661.80" x2="113.40" y2="664.40" stroke="#2b2b2b" stroke-width="0.9"/>
<line x1="133.40" y1="661.80" x2="133.40" y2="664.40" stroke="#2b2b2b" stroke-width="0.9"/>
<line x1="98.52" y1="661.80" x2="98.52" y2="663.40" stroke="#2b2b2b" stroke-width="0.5"/>
<line x1="102.40" y1="661.80" x2="102.40" y2="663.40" stroke="#2b2b2b" stroke-width="0.5"/>
<line x1="105.15" y1="661.80" x2="105.15" y2="663.40" stroke="#2b2b2b" stroke-width="0.5"/>
<line x1="107.28" y1="661.80" x2="107.28" y2="663.40" stroke="#2b2b2b" stroke-width="0.5"/>
<line x1="109.02" y1="661.80" x2="109.02" y2="663.40" stroke="#2b2b2b" stroke-width="0.5"/>
<line x1="110.49" y1="661.80" x2="110.49" y2="663.40" stroke="#2b2b2b" stroke-width="0.5"/>
<line x1="111.77" y1="661.80" x2="111.77" y2="663.40" stroke="#2b2b2b" stroke-width="0.5"/>
<line x1="112.89" y1="661.80" x2="112.89" y2="663.40" stroke="#2b2b2b" stroke-width="0.5"/>
<line x1="119.92" y1="661.80" x2="119.92" y2="663.40" stroke="#2b2b2b" stroke-width="0.5"/>
<line x1="123.44" y1="661.80" x2="123.44" y2="663.40" stroke="#2b2b2b" stroke-width="0.5"/>
<line x1="125.94" y1="661.80" x2="125.94" y2="663.40" stroke="#2b2b2b" stroke-width="0.5"/>
<line x1="127.88" y1="661.80" x2="127.88" y2="663.40" stroke="#2b2b2b" stroke-width="0.5"/>
<line x1="129.46" y1="661.80" x2="129.46" y2="663.40" stroke="#2b2b2b" stroke-width="0.5"/>
<line x1="130.80" y1="661.80" x2="130.80" y2="663.40" stroke="#2b2b2b" stroke-width="0.5"/>
<line x1="131.96" y1="661.80" x2="131.96" y2="663.40" stroke="#2b2b2b" stroke-width="0.5"/>
<line x1="132.98" y1="661.80" x2="132.98" y2="663.40" stroke="#2b2b2b" stroke-width="0.5"/>
<line x1="81.42" y1="661.80" x2="81.42" y2="663.40" stroke="#2b2b2b" stroke-width="0.5"/>
<line x1="84.06" y1="661.80" x2="84.06" y2="663.40" stroke="#2b2b2b" stroke-width="0.5"/>
<line x1="85.93" y1="661.80" x2="85.93" y2="663.40" stroke="#2b2b2b" stroke-width="0.5"/>
<line x1="87.38" y1="661.80" x2="87.38" y2="663.40" stroke="#2b2b2b" stroke-width="0.5"/>
<line x1="88.57" y1="661.80" x2="88.57" y2="663.40" stroke="#2b2b2b" stroke-width="0.5"/>
<line x1="89.58" y1="661.80" x2="89.58" y2="663.40" stroke="#2b2b2b" stroke-width="0.5"/>
<line x1="90.45" y1="661.80" x2="90.45" y2="663.40" stroke="#2b2b2b" stroke-width="0.5"/>
<line x1="91.21" y1="661.80" x2="91.21" y2="663.40" stroke="#2b2b2b" stroke-width="0.5"/>
<line x1="72.69" y1="661.80" x2="72.69" y2="663.40" stroke="#2b2b2b" stroke-width="0.5"/>
<line x1="70.22" y1="661.80" x2="70.22" y2="663.40" stroke="#2b2b2b" stroke-width="0.5"/>
<line x1="68.47" y1="661.80" x2="68.47" y2="663.40" stroke="#2b2b2b" stroke-width="0.5"/>
<line x1="67.11" y1="661.80" x2="67.11" y2="663.40" stroke="#2b2b2b" stroke-width="0.5"/>
<line x1="66.01" y1="661.80" x2="66.01" y2="663.40" stroke="#2b2b2b" stroke-width="0.5"/>
<line x1="65.07" y1="661.80" x2="65.07" y2="663.40" stroke="#2b2b2b" stroke-width="0.5"/>
<line x1="64.26" y1="661.80" x2="64.26" y2="663.40" stroke="#2b2b2b" stroke-width="0.5"/>
<line x1="63.54" y1="661.80" x2="63.54" y2="663.40" stroke="#2b2b2b" stroke-width="0.5"/>
<rect x="73.90" y="661.00" width="5" height="2.2" fill="#111"/>
<text x="54.80" y="675.90" font-size="7.1" text-anchor="start" textLength="14.50" lengthAdjust="spacingAndGlyphs" fill="#222" stroke="#222" stroke-width="0.28">-10<tspan font-size="72%" dy="-2.7">3</tspan></text>
<text x="77.00" y="675.90" font-size="7.1" text-anchor="middle" fill="#222" stroke="#222" stroke-width="0.28">0</text>
<text x="87.10" y="675.90" font-size="7.1" text-anchor="start" textLength="10.30" lengthAdjust="spacingAndGlyphs" fill="#222" stroke="#222" stroke-width="0.28">10<tspan font-size="72%" dy="-2.7">3</tspan></text>
<text x="108.40" y="675.90" font-size="7.1" text-anchor="start" textLength="11.30" lengthAdjust="spacingAndGlyphs" fill="#222" stroke="#222" stroke-width="0.28">10<tspan font-size="72%" dy="-2.7">4</tspan></text>
<text x="128.80" y="675.90" font-size="7.1" text-anchor="start" textLength="11.20" lengthAdjust="spacingAndGlyphs" fill="#222" stroke="#222" stroke-width="0.28">10<tspan font-size="72%" dy="-2.7">5</tspan></text>
<text x="100.40" y="689.00" font-size="9.9" text-anchor="middle" textLength="35.50" lengthAdjust="spacingAndGlyphs" fill="#222" stroke="#222" stroke-width="0.28">UVBlue-A</text>
<text x="100.60" y="386.00" font-size="8.2" text-anchor="middle" font-weight="bold" textLength="42.00" lengthAdjust="spacingAndGlyphs" fill="#111" stroke="#111" stroke-width="0.22">RPMI-8226</text>
<rect x="174.20" y="391.00" width="83.60" height="114.80" fill="none" stroke="#2b2b2b" stroke-width="1.3"/>
<line x1="171.00" y1="505.80" x2="174.20" y2="505.80" stroke="#2b2b2b" stroke-width="0.9"/>
<text x="167.80" y="508.50" font-size="7.7" text-anchor="end" fill="#222" stroke="#222" stroke-width="0.28">0</text>
<line x1="171.00" y1="476.37" x2="174.20" y2="476.37" stroke="#2b2b2b" stroke-width="0.9"/>
<text x="167.80" y="479.07" font-size="7.7" text-anchor="end" fill="#222" stroke="#222" stroke-width="0.28">100</text>
<line x1="171.00" y1="446.94" x2="174.20" y2="446.94" stroke="#2b2b2b" stroke-width="0.9"/>
<text x="167.80" y="449.64" font-size="7.7" text-anchor="end" fill="#222" stroke="#222" stroke-width="0.28">200</text>
<line x1="171.00" y1="417.51" x2="174.20" y2="417.51" stroke="#2b2b2b" stroke-width="0.9"/>
<text x="167.80" y="420.21" font-size="7.7" text-anchor="end" fill="#222" stroke="#222" stroke-width="0.28">300</text>
<line x1="172.60" y1="499.91" x2="174.20" y2="499.91" stroke="#2b2b2b" stroke-width="0.6"/>
<line x1="172.60" y1="494.03" x2="174.20" y2="494.03" stroke="#2b2b2b" stroke-width="0.6"/>
<line x1="172.60" y1="488.14" x2="174.20" y2="488.14" stroke="#2b2b2b" stroke-width="0.6"/>
<line x1="172.60" y1="482.26" x2="174.20" y2="482.26" stroke="#2b2b2b" stroke-width="0.6"/>
<line x1="172.60" y1="470.48" x2="174.20" y2="470.48" stroke="#2b2b2b" stroke-width="0.6"/>
<line x1="172.60" y1="464.60" x2="174.20" y2="464.60" stroke="#2b2b2b" stroke-width="0.6"/>
<line x1="172.60" y1="458.71" x2="174.20" y2="458.71" stroke="#2b2b2b" stroke-width="0.6"/>
<line x1="172.60" y1="452.83" x2="174.20" y2="452.83" stroke="#2b2b2b" stroke-width="0.6"/>
<line x1="172.60" y1="441.05" x2="174.20" y2="441.05" stroke="#2b2b2b" stroke-width="0.6"/>
<line x1="172.60" y1="435.17" x2="174.20" y2="435.17" stroke="#2b2b2b" stroke-width="0.6"/>
<line x1="172.60" y1="429.28" x2="174.20" y2="429.28" stroke="#2b2b2b" stroke-width="0.6"/>
<line x1="172.60" y1="423.40" x2="174.20" y2="423.40" stroke="#2b2b2b" stroke-width="0.6"/>
<line x1="178.20" y1="505.80" x2="178.20" y2="508.40" stroke="#2b2b2b" stroke-width="0.9"/>
<line x1="192.40" y1="505.80" x2="192.40" y2="508.40" stroke="#2b2b2b" stroke-width="0.9"/>
<line x1="207.40" y1="505.80" x2="207.40" y2="508.40" stroke="#2b2b2b" stroke-width="0.9"/>
<line x1="229.20" y1="505.80" x2="229.20" y2="508.40" stroke="#2b2b2b" stroke-width="0.9"/>
<line x1="249.20" y1="505.80" x2="249.20" y2="508.40" stroke="#2b2b2b" stroke-width="0.9"/>
<line x1="214.32" y1="505.80" x2="214.32" y2="507.40" stroke="#2b2b2b" stroke-width="0.5"/>
<line x1="218.20" y1="505.80" x2="218.20" y2="507.40" stroke="#2b2b2b" stroke-width="0.5"/>
<line x1="220.95" y1="505.80" x2="220.95" y2="507.40" stroke="#2b2b2b" stroke-width="0.5"/>
<line x1="223.08" y1="505.80" x2="223.08" y2="507.40" stroke="#2b2b2b" stroke-width="0.5"/>
<line x1="224.82" y1="505.80" x2="224.82" y2="507.40" stroke="#2b2b2b" stroke-width="0.5"/>
<line x1="226.29" y1="505.80" x2="226.29" y2="507.40" stroke="#2b2b2b" stroke-width="0.5"/>
<line x1="227.57" y1="505.80" x2="227.57" y2="507.40" stroke="#2b2b2b" stroke-width="0.5"/>
<line x1="228.69" y1="505.80" x2="228.69" y2="507.40" stroke="#2b2b2b" stroke-width="0.5"/>
<line x1="235.72" y1="505.80" x2="235.72" y2="507.40" stroke="#2b2b2b" stroke-width="0.5"/>
<line x1="239.24" y1="505.80" x2="239.24" y2="507.40" stroke="#2b2b2b" stroke-width="0.5"/>
<line x1="241.74" y1="505.80" x2="241.74" y2="507.40" stroke="#2b2b2b" stroke-width="0.5"/>
<line x1="243.68" y1="505.80" x2="243.68" y2="507.40" stroke="#2b2b2b" stroke-width="0.5"/>
<line x1="245.26" y1="505.80" x2="245.26" y2="507.40" stroke="#2b2b2b" stroke-width="0.5"/>
<line x1="246.60" y1="505.80" x2="246.60" y2="507.40" stroke="#2b2b2b" stroke-width="0.5"/>
<line x1="247.76" y1="505.80" x2="247.76" y2="507.40" stroke="#2b2b2b" stroke-width="0.5"/>
<line x1="248.78" y1="505.80" x2="248.78" y2="507.40" stroke="#2b2b2b" stroke-width="0.5"/>
<line x1="197.22" y1="505.80" x2="197.22" y2="507.40" stroke="#2b2b2b" stroke-width="0.5"/>
<line x1="199.86" y1="505.80" x2="199.86" y2="507.40" stroke="#2b2b2b" stroke-width="0.5"/>
<line x1="201.73" y1="505.80" x2="201.73" y2="507.40" stroke="#2b2b2b" stroke-width="0.5"/>
<line x1="203.18" y1="505.80" x2="203.18" y2="507.40" stroke="#2b2b2b" stroke-width="0.5"/>
<line x1="204.37" y1="505.80" x2="204.37" y2="507.40" stroke="#2b2b2b" stroke-width="0.5"/>
<line x1="205.38" y1="505.80" x2="205.38" y2="507.40" stroke="#2b2b2b" stroke-width="0.5"/>
<line x1="206.25" y1="505.80" x2="206.25" y2="507.40" stroke="#2b2b2b" stroke-width="0.5"/>
<line x1="207.01" y1="505.80" x2="207.01" y2="507.40" stroke="#2b2b2b" stroke-width="0.5"/>
<line x1="188.49" y1="505.80" x2="188.49" y2="507.40" stroke="#2b2b2b" stroke-width="0.5"/>
<line x1="186.02" y1="505.80" x2="186.02" y2="507.40" stroke="#2b2b2b" stroke-width="0.5"/>
<line x1="184.27" y1="505.80" x2="184.27" y2="507.40" stroke="#2b2b2b" stroke-width="0.5"/>
<line x1="182.91" y1="505.80" x2="182.91" y2="507.40" stroke="#2b2b2b" stroke-width="0.5"/>
<line x1="181.81" y1="505.80" x2="181.81" y2="507.40" stroke="#2b2b2b" stroke-width="0.5"/>
<line x1="180.87" y1="505.80" x2="180.87" y2="507.40" stroke="#2b2b2b" stroke-width="0.5"/>
<line x1="180.06" y1="505.80" x2="180.06" y2="507.40" stroke="#2b2b2b" stroke-width="0.5"/>
<line x1="179.34" y1="505.80" x2="179.34" y2="507.40" stroke="#2b2b2b" stroke-width="0.5"/>
<rect x="189.70" y="505.00" width="5" height="2.2" fill="#111"/>
<text x="170.60" y="519.90" font-size="7.1" text-anchor="start" textLength="14.50" lengthAdjust="spacingAndGlyphs" fill="#222" stroke="#222" stroke-width="0.28">-10<tspan font-size="72%" dy="-2.7">3</tspan></text>
<text x="192.80" y="519.90" font-size="7.1" text-anchor="middle" fill="#222" stroke="#222" stroke-width="0.28">0</text>
<text x="202.90" y="519.90" font-size="7.1" text-anchor="start" textLength="10.30" lengthAdjust="spacingAndGlyphs" fill="#222" stroke="#222" stroke-width="0.28">10<tspan font-size="72%" dy="-2.7">3</tspan></text>
<text x="224.20" y="519.90" font-size="7.1" text-anchor="start" textLength="11.30" lengthAdjust="spacingAndGlyphs" fill="#222" stroke="#222" stroke-width="0.28">10<tspan font-size="72%" dy="-2.7">4</tspan></text>
<text x="244.60" y="519.90" font-size="7.1" text-anchor="start" textLength="11.20" lengthAdjust="spacingAndGlyphs" fill="#222" stroke="#222" stroke-width="0.28">10<tspan font-size="72%" dy="-2.7">5</tspan></text>
<text x="216.20" y="532.90" font-size="9.9" text-anchor="middle" textLength="25.00" lengthAdjust="spacingAndGlyphs" fill="#222" stroke="#222" stroke-width="0.28">FITC-A</text>
<rect x="174.20" y="546.60" width="83.60" height="115.20" fill="none" stroke="#2b2b2b" stroke-width="1.3"/>
<line x1="171.00" y1="661.80" x2="174.20" y2="661.80" stroke="#2b2b2b" stroke-width="0.9"/>
<text x="167.80" y="664.50" font-size="7.7" text-anchor="end" fill="#222" stroke="#222" stroke-width="0.28">0</text>
<line x1="171.00" y1="635.15" x2="174.20" y2="635.15" stroke="#2b2b2b" stroke-width="0.9"/>
<text x="167.80" y="637.85" font-size="7.7" text-anchor="end" fill="#222" stroke="#222" stroke-width="0.28">0.5</text>
<line x1="171.00" y1="608.50" x2="174.20" y2="608.50" stroke="#2b2b2b" stroke-width="0.9"/>
<text x="167.80" y="611.20" font-size="7.7" text-anchor="end" fill="#222" stroke="#222" stroke-width="0.28">1.0</text>
<line x1="171.00" y1="581.85" x2="174.20" y2="581.85" stroke="#2b2b2b" stroke-width="0.9"/>
<text x="167.80" y="584.55" font-size="7.7" text-anchor="end" fill="#222" stroke="#222" stroke-width="0.28">1.5</text>
<line x1="171.00" y1="555.20" x2="174.20" y2="555.20" stroke="#2b2b2b" stroke-width="0.9"/>
<text x="167.80" y="557.90" font-size="7.7" text-anchor="end" fill="#222" stroke="#222" stroke-width="0.28">2.0</text>
<line x1="172.60" y1="656.47" x2="174.20" y2="656.47" stroke="#2b2b2b" stroke-width="0.6"/>
<line x1="172.60" y1="651.14" x2="174.20" y2="651.14" stroke="#2b2b2b" stroke-width="0.6"/>
<line x1="172.60" y1="645.81" x2="174.20" y2="645.81" stroke="#2b2b2b" stroke-width="0.6"/>
<line x1="172.60" y1="640.48" x2="174.20" y2="640.48" stroke="#2b2b2b" stroke-width="0.6"/>
<line x1="172.60" y1="629.82" x2="174.20" y2="629.82" stroke="#2b2b2b" stroke-width="0.6"/>
<line x1="172.60" y1="624.49" x2="174.20" y2="624.49" stroke="#2b2b2b" stroke-width="0.6"/>
<line x1="172.60" y1="619.16" x2="174.20" y2="619.16" stroke="#2b2b2b" stroke-width="0.6"/>
<line x1="172.60" y1="613.83" x2="174.20" y2="613.83" stroke="#2b2b2b" stroke-width="0.6"/>
<line x1="172.60" y1="603.17" x2="174.20" y2="603.17" stroke="#2b2b2b" stroke-width="0.6"/>
<line x1="172.60" y1="597.84" x2="174.20" y2="597.84" stroke="#2b2b2b" stroke-width="0.6"/>
<line x1="172.60" y1="592.51" x2="174.20" y2="592.51" stroke="#2b2b2b" stroke-width="0.6"/>
<line x1="172.60" y1="587.18" x2="174.20" y2="587.18" stroke="#2b2b2b" stroke-width="0.6"/>
<line x1="172.60" y1="576.52" x2="174.20" y2="576.52" stroke="#2b2b2b" stroke-width="0.6"/>
<line x1="172.60" y1="571.19" x2="174.20" y2="571.19" stroke="#2b2b2b" stroke-width="0.6"/>
<line x1="172.60" y1="565.86" x2="174.20" y2="565.86" stroke="#2b2b2b" stroke-width="0.6"/>
<line x1="172.60" y1="560.53" x2="174.20" y2="560.53" stroke="#2b2b2b" stroke-width="0.6"/>
<line x1="178.20" y1="661.80" x2="178.20" y2="664.40" stroke="#2b2b2b" stroke-width="0.9"/>
<line x1="192.40" y1="661.80" x2="192.40" y2="664.40" stroke="#2b2b2b" stroke-width="0.9"/>
<line x1="207.40" y1="661.80" x2="207.40" y2="664.40" stroke="#2b2b2b" stroke-width="0.9"/>
<line x1="229.20" y1="661.80" x2="229.20" y2="664.40" stroke="#2b2b2b" stroke-width="0.9"/>
<line x1="249.20" y1="661.80" x2="249.20" y2="664.40" stroke="#2b2b2b" stroke-width="0.9"/>
<line x1="214.32" y1="661.80" x2="214.32" y2="663.40" stroke="#2b2b2b" stroke-width="0.5"/>
<line x1="218.20" y1="661.80" x2="218.20" y2="663.40" stroke="#2b2b2b" stroke-width="0.5"/>
<line x1="220.95" y1="661.80" x2="220.95" y2="663.40" stroke="#2b2b2b" stroke-width="0.5"/>
<line x1="223.08" y1="661.80" x2="223.08" y2="663.40" stroke="#2b2b2b" stroke-width="0.5"/>
<line x1="224.82" y1="661.80" x2="224.82" y2="663.40" stroke="#2b2b2b" stroke-width="0.5"/>
<line x1="226.29" y1="661.80" x2="226.29" y2="663.40" stroke="#2b2b2b" stroke-width="0.5"/>
<line x1="227.57" y1="661.80" x2="227.57" y2="663.40" stroke="#2b2b2b" stroke-width="0.5"/>
<line x1="228.69" y1="661.80" x2="228.69" y2="663.40" stroke="#2b2b2b" stroke-width="0.5"/>
<line x1="235.72" y1="661.80" x2="235.72" y2="663.40" stroke="#2b2b2b" stroke-width="0.5"/>
<line x1="239.24" y1="661.80" x2="239.24" y2="663.40" stroke="#2b2b2b" stroke-width="0.5"/>
<line x1="241.74" y1="661.80" x2="241.74" y2="663.40" stroke="#2b2b2b" stroke-width="0.5"/>
<line x1="243.68" y1="661.80" x2="243.68" y2="663.40" stroke="#2b2b2b" stroke-width="0.5"/>
<line x1="245.26" y1="661.80" x2="245.26" y2="663.40" stroke="#2b2b2b" stroke-width="0.5"/>
<line x1="246.60" y1="661.80" x2="246.60" y2="663.40" stroke="#2b2b2b" stroke-width="0.5"/>
<line x1="247.76" y1="661.80" x2="247.76" y2="663.40" stroke="#2b2b2b" stroke-width="0.5"/>
<line x1="248.78" y1="661.80" x2="248.78" y2="663.40" stroke="#2b2b2b" stroke-width="0.5"/>
<line x1="197.22" y1="661.80" x2="197.22" y2="663.40" stroke="#2b2b2b" stroke-width="0.5"/>
<line x1="199.86" y1="661.80" x2="199.86" y2="663.40" stroke="#2b2b2b" stroke-width="0.5"/>
<line x1="201.73" y1="661.80" x2="201.73" y2="663.40" stroke="#2b2b2b" stroke-width="0.5"/>
<line x1="203.18" y1="661.80" x2="203.18" y2="663.40" stroke="#2b2b2b" stroke-width="0.5"/>
<line x1="204.37" y1="661.80" x2="204.37" y2="663.40" stroke="#2b2b2b" stroke-width="0.5"/>
<line x1="205.38" y1="661.80" x2="205.38" y2="663.40" stroke="#2b2b2b" stroke-width="0.5"/>
<line x1="206.25" y1="661.80" x2="206.25" y2="663.40" stroke="#2b2b2b" stroke-width="0.5"/>
<line x1="207.01" y1="661.80" x2="207.01" y2="663.40" stroke="#2b2b2b" stroke-width="0.5"/>
<line x1="188.49" y1="661.80" x2="188.49" y2="663.40" stroke="#2b2b2b" stroke-width="0.5"/>
<line x1="186.02" y1="661.80" x2="186.02" y2="663.40" stroke="#2b2b2b" stroke-width="0.5"/>
<line x1="184.27" y1="661.80" x2="184.27" y2="663.40" stroke="#2b2b2b" stroke-width="0.5"/>
<line x1="182.91" y1="661.80" x2="182.91" y2="663.40" stroke="#2b2b2b" stroke-width="0.5"/>
<line x1="181.81" y1="661.80" x2="181.81" y2="663.40" stroke="#2b2b2b" stroke-width="0.5"/>
<line x1="180.87" y1="661.80" x2="180.87" y2="663.40" stroke="#2b2b2b" stroke-width="0.5"/>
<line x1="180.06" y1="661.80" x2="180.06" y2="663.40" stroke="#2b2b2b" stroke-width="0.5"/>
<line x1="179.34" y1="661.80" x2="179.34" y2="663.40" stroke="#2b2b2b" stroke-width="0.5"/>
<rect x="189.70" y="661.00" width="5" height="2.2" fill="#111"/>
<text x="170.60" y="675.90" font-size="7.1" text-anchor="start" textLength="14.50" lengthAdjust="spacingAndGlyphs" fill="#222" stroke="#222" stroke-width="0.28">-10<tspan font-size="72%" dy="-2.7">3</tspan></text>
<text x="192.80" y="675.90" font-size="7.1" text-anchor="middle" fill="#222" stroke="#222" stroke-width="0.28">0</text>
<text x="202.90" y="675.90" font-size="7.1" text-anchor="start" textLength="10.30" lengthAdjust="spacingAndGlyphs" fill="#222" stroke="#222" stroke-width="0.28">10<tspan font-size="72%" dy="-2.7">3</tspan></text>
<text x="224.20" y="675.90" font-size="7.1" text-anchor="start" textLength="11.30" lengthAdjust="spacingAndGlyphs" fill="#222" stroke="#222" stroke-width="0.28">10<tspan font-size="72%" dy="-2.7">4</tspan></text>
<text x="244.60" y="675.90" font-size="7.1" text-anchor="start" textLength="11.20" lengthAdjust="spacingAndGlyphs" fill="#222" stroke="#222" stroke-width="0.28">10<tspan font-size="72%" dy="-2.7">5</tspan></text>
<text x="216.20" y="689.00" font-size="9.9" text-anchor="middle" textLength="35.50" lengthAdjust="spacingAndGlyphs" fill="#222" stroke="#222" stroke-width="0.28">UVBlue-A</text>
<text x="216.40" y="386.00" font-size="8.2" text-anchor="middle" font-weight="bold" textLength="18.50" lengthAdjust="spacingAndGlyphs" fill="#111" stroke="#111" stroke-width="0.22">JJN3</text>
<rect x="289.90" y="391.00" width="83.60" height="114.80" fill="none" stroke="#2b2b2b" stroke-width="1.3"/>
<line x1="286.70" y1="505.80" x2="289.90" y2="505.80" stroke="#2b2b2b" stroke-width="0.9"/>
<text x="283.50" y="508.50" font-size="7.7" text-anchor="end" fill="#222" stroke="#222" stroke-width="0.28">0</text>
<line x1="286.70" y1="477.85" x2="289.90" y2="477.85" stroke="#2b2b2b" stroke-width="0.9"/>
<text x="283.50" y="480.55" font-size="7.7" text-anchor="end" fill="#222" stroke="#222" stroke-width="0.28">200</text>
<line x1="286.70" y1="449.90" x2="289.90" y2="449.90" stroke="#2b2b2b" stroke-width="0.9"/>
<text x="283.50" y="452.60" font-size="7.7" text-anchor="end" fill="#222" stroke="#222" stroke-width="0.28">400</text>
<line x1="286.70" y1="421.95" x2="289.90" y2="421.95" stroke="#2b2b2b" stroke-width="0.9"/>
<text x="283.50" y="424.65" font-size="7.7" text-anchor="end" fill="#222" stroke="#222" stroke-width="0.28">600</text>
<line x1="286.70" y1="394.00" x2="289.90" y2="394.00" stroke="#2b2b2b" stroke-width="0.9"/>
<text x="283.50" y="396.70" font-size="7.7" text-anchor="end" fill="#222" stroke="#222" stroke-width="0.28">800</text>
<line x1="288.30" y1="500.21" x2="289.90" y2="500.21" stroke="#2b2b2b" stroke-width="0.6"/>
<line x1="288.30" y1="494.62" x2="289.90" y2="494.62" stroke="#2b2b2b" stroke-width="0.6"/>
<line x1="288.30" y1="489.03" x2="289.90" y2="489.03" stroke="#2b2b2b" stroke-width="0.6"/>
<line x1="288.30" y1="483.44" x2="289.90" y2="483.44" stroke="#2b2b2b" stroke-width="0.6"/>
<line x1="288.30" y1="472.26" x2="289.90" y2="472.26" stroke="#2b2b2b" stroke-width="0.6"/>
<line x1="288.30" y1="466.67" x2="289.90" y2="466.67" stroke="#2b2b2b" stroke-width="0.6"/>
<line x1="288.30" y1="461.08" x2="289.90" y2="461.08" stroke="#2b2b2b" stroke-width="0.6"/>
<line x1="288.30" y1="455.49" x2="289.90" y2="455.49" stroke="#2b2b2b" stroke-width="0.6"/>
<line x1="288.30" y1="444.31" x2="289.90" y2="444.31" stroke="#2b2b2b" stroke-width="0.6"/>
<line x1="288.30" y1="438.72" x2="289.90" y2="438.72" stroke="#2b2b2b" stroke-width="0.6"/>
<line x1="288.30" y1="433.13" x2="289.90" y2="433.13" stroke="#2b2b2b" stroke-width="0.6"/>
<line x1="288.30" y1="427.54" x2="289.90" y2="427.54" stroke="#2b2b2b" stroke-width="0.6"/>
<line x1="288.30" y1="416.36" x2="289.90" y2="416.36" stroke="#2b2b2b" stroke-width="0.6"/>
<line x1="288.30" y1="410.77" x2="289.90" y2="410.77" stroke="#2b2b2b" stroke-width="0.6"/>
<line x1="288.30" y1="405.18" x2="289.90" y2="405.18" stroke="#2b2b2b" stroke-width="0.6"/>
<line x1="288.30" y1="399.59" x2="289.90" y2="399.59" stroke="#2b2b2b" stroke-width="0.6"/>
<line x1="293.90" y1="505.80" x2="293.90" y2="508.40" stroke="#2b2b2b" stroke-width="0.9"/>
<line x1="308.10" y1="505.80" x2="308.10" y2="508.40" stroke="#2b2b2b" stroke-width="0.9"/>
<line x1="323.10" y1="505.80" x2="323.10" y2="508.40" stroke="#2b2b2b" stroke-width="0.9"/>
<line x1="344.90" y1="505.80" x2="344.90" y2="508.40" stroke="#2b2b2b" stroke-width="0.9"/>
<line x1="364.90" y1="505.80" x2="364.90" y2="508.40" stroke="#2b2b2b" stroke-width="0.9"/>
<line x1="330.02" y1="505.80" x2="330.02" y2="507.40" stroke="#2b2b2b" stroke-width="0.5"/>
<line x1="333.90" y1="505.80" x2="333.90" y2="507.40" stroke="#2b2b2b" stroke-width="0.5"/>
<line x1="336.65" y1="505.80" x2="336.65" y2="507.40" stroke="#2b2b2b" stroke-width="0.5"/>
<line x1="338.78" y1="505.80" x2="338.78" y2="507.40" stroke="#2b2b2b" stroke-width="0.5"/>
<line x1="340.52" y1="505.80" x2="340.52" y2="507.40" stroke="#2b2b2b" stroke-width="0.5"/>
<line x1="341.99" y1="505.80" x2="341.99" y2="507.40" stroke="#2b2b2b" stroke-width="0.5"/>
<line x1="343.27" y1="505.80" x2="343.27" y2="507.40" stroke="#2b2b2b" stroke-width="0.5"/>
<line x1="344.39" y1="505.80" x2="344.39" y2="507.40" stroke="#2b2b2b" stroke-width="0.5"/>
<line x1="351.42" y1="505.80" x2="351.42" y2="507.40" stroke="#2b2b2b" stroke-width="0.5"/>
<line x1="354.94" y1="505.80" x2="354.94" y2="507.40" stroke="#2b2b2b" stroke-width="0.5"/>
<line x1="357.44" y1="505.80" x2="357.44" y2="507.40" stroke="#2b2b2b" stroke-width="0.5"/>
<line x1="359.38" y1="505.80" x2="359.38" y2="507.40" stroke="#2b2b2b" stroke-width="0.5"/>
<line x1="360.96" y1="505.80" x2="360.96" y2="507.40" stroke="#2b2b2b" stroke-width="0.5"/>
<line x1="362.30" y1="505.80" x2="362.30" y2="507.40" stroke="#2b2b2b" stroke-width="0.5"/>
<line x1="363.46" y1="505.80" x2="363.46" y2="507.40" stroke="#2b2b2b" stroke-width="0.5"/>
<line x1="364.48" y1="505.80" x2="364.48" y2="507.40" stroke="#2b2b2b" stroke-width="0.5"/>
<line x1="312.92" y1="505.80" x2="312.92" y2="507.40" stroke="#2b2b2b" stroke-width="0.5"/>
<line x1="315.56" y1="505.80" x2="315.56" y2="507.40" stroke="#2b2b2b" stroke-width="0.5"/>
<line x1="317.43" y1="505.80" x2="317.43" y2="507.40" stroke="#2b2b2b" stroke-width="0.5"/>
<line x1="318.88" y1="505.80" x2="318.88" y2="507.40" stroke="#2b2b2b" stroke-width="0.5"/>
<line x1="320.07" y1="505.80" x2="320.07" y2="507.40" stroke="#2b2b2b" stroke-width="0.5"/>
<line x1="321.08" y1="505.80" x2="321.08" y2="507.40" stroke="#2b2b2b" stroke-width="0.5"/>
<line x1="321.95" y1="505.80" x2="321.95" y2="507.40" stroke="#2b2b2b" stroke-width="0.5"/>
<line x1="322.71" y1="505.80" x2="322.71" y2="507.40" stroke="#2b2b2b" stroke-width="0.5"/>
<line x1="304.19" y1="505.80" x2="304.19" y2="507.40" stroke="#2b2b2b" stroke-width="0.5"/>
<line x1="301.72" y1="505.80" x2="301.72" y2="507.40" stroke="#2b2b2b" stroke-width="0.5"/>
<line x1="299.97" y1="505.80" x2="299.97" y2="507.40" stroke="#2b2b2b" stroke-width="0.5"/>
<line x1="298.61" y1="505.80" x2="298.61" y2="507.40" stroke="#2b2b2b" stroke-width="0.5"/>
<line x1="297.51" y1="505.80" x2="297.51" y2="507.40" stroke="#2b2b2b" stroke-width="0.5"/>
<line x1="296.57" y1="505.80" x2="296.57" y2="507.40" stroke="#2b2b2b" stroke-width="0.5"/>
<line x1="295.76" y1="505.80" x2="295.76" y2="507.40" stroke="#2b2b2b" stroke-width="0.5"/>
<line x1="295.04" y1="505.80" x2="295.04" y2="507.40" stroke="#2b2b2b" stroke-width="0.5"/>
<rect x="305.40" y="505.00" width="5" height="2.2" fill="#111"/>
<text x="286.30" y="519.90" font-size="7.1" text-anchor="start" textLength="14.50" lengthAdjust="spacingAndGlyphs" fill="#222" stroke="#222" stroke-width="0.28">-10<tspan font-size="72%" dy="-2.7">3</tspan></text>
<text x="308.50" y="519.90" font-size="7.1" text-anchor="middle" fill="#222" stroke="#222" stroke-width="0.28">0</text>
<text x="318.60" y="519.90" font-size="7.1" text-anchor="start" textLength="10.30" lengthAdjust="spacingAndGlyphs" fill="#222" stroke="#222" stroke-width="0.28">10<tspan font-size="72%" dy="-2.7">3</tspan></text>
<text x="339.90" y="519.90" font-size="7.1" text-anchor="start" textLength="11.30" lengthAdjust="spacingAndGlyphs" fill="#222" stroke="#222" stroke-width="0.28">10<tspan font-size="72%" dy="-2.7">4</tspan></text>
<text x="360.30" y="519.90" font-size="7.1" text-anchor="start" textLength="11.20" lengthAdjust="spacingAndGlyphs" fill="#222" stroke="#222" stroke-width="0.28">10<tspan font-size="72%" dy="-2.7">5</tspan></text>
<text x="331.90" y="532.90" font-size="9.9" text-anchor="middle" textLength="25.00" lengthAdjust="spacingAndGlyphs" fill="#222" stroke="#222" stroke-width="0.28">FITC-A</text>
<rect x="289.90" y="546.60" width="83.60" height="115.20" fill="none" stroke="#2b2b2b" stroke-width="1.3"/>
<line x1="286.70" y1="661.80" x2="289.90" y2="661.80" stroke="#2b2b2b" stroke-width="0.9"/>
<text x="283.50" y="664.50" font-size="7.7" text-anchor="end" fill="#222" stroke="#222" stroke-width="0.28">0</text>
<line x1="286.70" y1="634.60" x2="289.90" y2="634.60" stroke="#2b2b2b" stroke-width="0.9"/>
<text x="283.50" y="637.30" font-size="7.7" text-anchor="end" fill="#222" stroke="#222" stroke-width="0.28">0.5</text>
<line x1="286.70" y1="607.40" x2="289.90" y2="607.40" stroke="#2b2b2b" stroke-width="0.9"/>
<text x="283.50" y="610.10" font-size="7.7" text-anchor="end" fill="#222" stroke="#222" stroke-width="0.28">1.0</text>
<line x1="286.70" y1="580.20" x2="289.90" y2="580.20" stroke="#2b2b2b" stroke-width="0.9"/>
<text x="283.50" y="582.90" font-size="7.7" text-anchor="end" fill="#222" stroke="#222" stroke-width="0.28">1.5</text>
<line x1="286.70" y1="553.00" x2="289.90" y2="553.00" stroke="#2b2b2b" stroke-width="0.9"/>
<text x="283.50" y="555.70" font-size="7.7" text-anchor="end" fill="#222" stroke="#222" stroke-width="0.28">2.0</text>
<line x1="288.30" y1="656.36" x2="289.90" y2="656.36" stroke="#2b2b2b" stroke-width="0.6"/>
<line x1="288.30" y1="650.92" x2="289.90" y2="650.92" stroke="#2b2b2b" stroke-width="0.6"/>
<line x1="288.30" y1="645.48" x2="289.90" y2="645.48" stroke="#2b2b2b" stroke-width="0.6"/>
<line x1="288.30" y1="640.04" x2="289.90" y2="640.04" stroke="#2b2b2b" stroke-width="0.6"/>
<line x1="288.30" y1="629.16" x2="289.90" y2="629.16" stroke="#2b2b2b" stroke-width="0.6"/>
<line x1="288.30" y1="623.72" x2="289.90" y2="623.72" stroke="#2b2b2b" stroke-width="0.6"/>
<line x1="288.30" y1="618.28" x2="289.90" y2="618.28" stroke="#2b2b2b" stroke-width="0.6"/>
<line x1="288.30" y1="612.84" x2="289.90" y2="612.84" stroke="#2b2b2b" stroke-width="0.6"/>
<line x1="288.30" y1="601.96" x2="289.90" y2="601.96" stroke="#2b2b2b" stroke-width="0.6"/>
<line x1="288.30" y1="596.52" x2="289.90" y2="596.52" stroke="#2b2b2b" stroke-width="0.6"/>
<line x1="288.30" y1="591.08" x2="289.90" y2="591.08" stroke="#2b2b2b" stroke-width="0.6"/>
<line x1="288.30" y1="585.64" x2="289.90" y2="585.64" stroke="#2b2b2b" stroke-width="0.6"/>
<line x1="288.30" y1="574.76" x2="289.90" y2="574.76" stroke="#2b2b2b" stroke-width="0.6"/>
<line x1="288.30" y1="569.32" x2="289.90" y2="569.32" stroke="#2b2b2b" stroke-width="0.6"/>
<line x1="288.30" y1="563.88" x2="289.90" y2="563.88" stroke="#2b2b2b" stroke-width="0.6"/>
<line x1="288.30" y1="558.44" x2="289.90" y2="558.44" stroke="#2b2b2b" stroke-width="0.6"/>
<line x1="293.90" y1="661.80" x2="293.90" y2="664.40" stroke="#2b2b2b" stroke-width="0.9"/>
<line x1="308.10" y1="661.80" x2="308.10" y2="664.40" stroke="#2b2b2b" stroke-width="0.9"/>
<line x1="323.10" y1="661.80" x2="323.10" y2="664.40" stroke="#2b2b2b" stroke-width="0.9"/>
<line x1="344.90" y1="661.80" x2="344.90" y2="664.40" stroke="#2b2b2b" stroke-width="0.9"/>
<line x1="364.90" y1="661.80" x2="364.90" y2="664.40" stroke="#2b2b2b" stroke-width="0.9"/>
<line x1="330.02" y1="661.80" x2="330.02" y2="663.40" stroke="#2b2b2b" stroke-width="0.5"/>
<line x1="333.90" y1="661.80" x2="333.90" y2="663.40" stroke="#2b2b2b" stroke-width="0.5"/>
<line x1="336.65" y1="661.80" x2="336.65" y2="663.40" stroke="#2b2b2b" stroke-width="0.5"/>
<line x1="338.78" y1="661.80" x2="338.78" y2="663.40" stroke="#2b2b2b" stroke-width="0.5"/>
<line x1="340.52" y1="661.80" x2="340.52" y2="663.40" stroke="#2b2b2b" stroke-width="0.5"/>
<line x1="341.99" y1="661.80" x2="341.99" y2="663.40" stroke="#2b2b2b" stroke-width="0.5"/>
<line x1="343.27" y1="661.80" x2="343.27" y2="663.40" stroke="#2b2b2b" stroke-width="0.5"/>
<line x1="344.39" y1="661.80" x2="344.39" y2="663.40" stroke="#2b2b2b" stroke-width="0.5"/>
<line x1="351.42" y1="661.80" x2="351.42" y2="663.40" stroke="#2b2b2b" stroke-width="0.5"/>
<line x1="354.94" y1="661.80" x2="354.94" y2="663.40" stroke="#2b2b2b" stroke-width="0.5"/>
<line x1="357.44" y1="661.80" x2="357.44" y2="663.40" stroke="#2b2b2b" stroke-width="0.5"/>
<line x1="359.38" y1="661.80" x2="359.38" y2="663.40" stroke="#2b2b2b" stroke-width="0.5"/>
<line x1="360.96" y1="661.80" x2="360.96" y2="663.40" stroke="#2b2b2b" stroke-width="0.5"/>
<line x1="362.30" y1="661.80" x2="362.30" y2="663.40" stroke="#2b2b2b" stroke-width="0.5"/>
<line x1="363.46" y1="661.80" x2="363.46" y2="663.40" stroke="#2b2b2b" stroke-width="0.5"/>
<line x1="364.48" y1="661.80" x2="364.48" y2="663.40" stroke="#2b2b2b" stroke-width="0.5"/>
<line x1="312.92" y1="661.80" x2="312.92" y2="663.40" stroke="#2b2b2b" stroke-width="0.5"/>
<line x1="315.56" y1="661.80" x2="315.56" y2="663.40" stroke="#2b2b2b" stroke-width="0.5"/>
<line x1="317.43" y1="661.80" x2="317.43" y2="663.40" stroke="#2b2b2b" stroke-width="0.5"/>
<line x1="318.88" y1="661.80" x2="318.88" y2="663.40" stroke="#2b2b2b" stroke-width="0.5"/>
<line x1="320.07" y1="661.80" x2="320.07" y2="663.40" stroke="#2b2b2b" stroke-width="0.5"/>
<line x1="321.08" y1="661.80" x2="321.08" y2="663.40" stroke="#2b2b2b" stroke-width="0.5"/>
<line x1="321.95" y1="661.80" x2="321.95" y2="663.40" stroke="#2b2b2b" stroke-width="0.5"/>
<line x1="322.71" y1="661.80" x2="322.71" y2="663.40" stroke="#2b2b2b" stroke-width="0.5"/>
<line x1="304.19" y1="661.80" x2="304.19" y2="663.40" stroke="#2b2b2b" stroke-width="0.5"/>
<line x1="301.72" y1="661.80" x2="301.72" y2="663.40" stroke="#2b2b2b" stroke-width="0.5"/>
<line x1="299.97" y1="661.80" x2="299.97" y2="663.40" stroke="#2b2b2b" stroke-width="0.5"/>
<line x1="298.61" y1="661.80" x2="298.61" y2="663.40" stroke="#2b2b2b" stroke-width="0.5"/>
<line x1="297.51" y1="661.80" x2="297.51" y2="663.40" stroke="#2b2b2b" stroke-width="0.5"/>
<line x1="296.57" y1="661.80" x2="296.57" y2="663.40" stroke="#2b2b2b" stroke-width="0.5"/>
<line x1="295.76" y1="661.80" x2="295.76" y2="663.40" stroke="#2b2b2b" stroke-width="0.5"/>
<line x1="295.04" y1="661.80" x2="295.04" y2="663.40" stroke="#2b2b2b" stroke-width="0.5"/>
<rect x="305.40" y="661.00" width="5" height="2.2" fill="#111"/>
<text x="286.30" y="675.90" font-size="7.1" text-anchor="start" textLength="14.50" lengthAdjust="spacingAndGlyphs" fill="#222" stroke="#222" stroke-width="0.28">-10<tspan font-size="72%" dy="-2.7">3</tspan></text>
<text x="308.50" y="675.90" font-size="7.1" text-anchor="middle" fill="#222" stroke="#222" stroke-width="0.28">0</text>
<text x="318.60" y="675.90" font-size="7.1" text-anchor="start" textLength="10.30" lengthAdjust="spacingAndGlyphs" fill="#222" stroke="#222" stroke-width="0.28">10<tspan font-size="72%" dy="-2.7">3</tspan></text>
<text x="339.90" y="675.90" font-size="7.1" text-anchor="start" textLength="11.30" lengthAdjust="spacingAndGlyphs" fill="#222" stroke="#222" stroke-width="0.28">10<tspan font-size="72%" dy="-2.7">4</tspan></text>
<text x="360.30" y="675.90" font-size="7.1" text-anchor="start" textLength="11.20" lengthAdjust="spacingAndGlyphs" fill="#222" stroke="#222" stroke-width="0.28">10<tspan font-size="72%" dy="-2.7">5</tspan></text>
<text x="331.90" y="689.00" font-size="9.9" text-anchor="middle" textLength="35.50" lengthAdjust="spacingAndGlyphs" fill="#222" stroke="#222" stroke-width="0.28">UVBlue-A</text>
<text x="332.10" y="386.00" font-size="8.2" text-anchor="middle" font-weight="bold" textLength="25.50" lengthAdjust="spacingAndGlyphs" fill="#111" stroke="#111" stroke-width="0.22">MM.1S</text>
<rect x="405.60" y="391.00" width="83.60" height="114.80" fill="none" stroke="#2b2b2b" stroke-width="1.3"/>
<line x1="402.40" y1="505.80" x2="405.60" y2="505.80" stroke="#2b2b2b" stroke-width="0.9"/>
<text x="399.20" y="508.50" font-size="7.7" text-anchor="end" fill="#222" stroke="#222" stroke-width="0.28">0</text>
<line x1="402.40" y1="468.80" x2="405.60" y2="468.80" stroke="#2b2b2b" stroke-width="0.9"/>
<text x="399.20" y="471.50" font-size="7.7" text-anchor="end" fill="#222" stroke="#222" stroke-width="0.28">200</text>
<line x1="402.40" y1="431.80" x2="405.60" y2="431.80" stroke="#2b2b2b" stroke-width="0.9"/>
<text x="399.20" y="434.50" font-size="7.7" text-anchor="end" fill="#222" stroke="#222" stroke-width="0.28">400</text>
<line x1="402.40" y1="394.80" x2="405.60" y2="394.80" stroke="#2b2b2b" stroke-width="0.9"/>
<text x="399.20" y="397.50" font-size="7.7" text-anchor="end" fill="#222" stroke="#222" stroke-width="0.28">600</text>
<line x1="404.00" y1="498.40" x2="405.60" y2="498.40" stroke="#2b2b2b" stroke-width="0.6"/>
<line x1="404.00" y1="491.00" x2="405.60" y2="491.00" stroke="#2b2b2b" stroke-width="0.6"/>
<line x1="404.00" y1="483.60" x2="405.60" y2="483.60" stroke="#2b2b2b" stroke-width="0.6"/>
<line x1="404.00" y1="476.20" x2="405.60" y2="476.20" stroke="#2b2b2b" stroke-width="0.6"/>
<line x1="404.00" y1="461.40" x2="405.60" y2="461.40" stroke="#2b2b2b" stroke-width="0.6"/>
<line x1="404.00" y1="454.00" x2="405.60" y2="454.00" stroke="#2b2b2b" stroke-width="0.6"/>
<line x1="404.00" y1="446.60" x2="405.60" y2="446.60" stroke="#2b2b2b" stroke-width="0.6"/>
<line x1="404.00" y1="439.20" x2="405.60" y2="439.20" stroke="#2b2b2b" stroke-width="0.6"/>
<line x1="404.00" y1="424.40" x2="405.60" y2="424.40" stroke="#2b2b2b" stroke-width="0.6"/>
<line x1="404.00" y1="417.00" x2="405.60" y2="417.00" stroke="#2b2b2b" stroke-width="0.6"/>
<line x1="404.00" y1="409.60" x2="405.60" y2="409.60" stroke="#2b2b2b" stroke-width="0.6"/>
<line x1="404.00" y1="402.20" x2="405.60" y2="402.20" stroke="#2b2b2b" stroke-width="0.6"/>
<line x1="409.60" y1="505.80" x2="409.60" y2="508.40" stroke="#2b2b2b" stroke-width="0.9"/>
<line x1="423.80" y1="505.80" x2="423.80" y2="508.40" stroke="#2b2b2b" stroke-width="0.9"/>
<line x1="438.80" y1="505.80" x2="438.80" y2="508.40" stroke="#2b2b2b" stroke-width="0.9"/>
<line x1="460.60" y1="505.80" x2="460.60" y2="508.40" stroke="#2b2b2b" stroke-width="0.9"/>
<line x1="480.60" y1="505.80" x2="480.60" y2="508.40" stroke="#2b2b2b" stroke-width="0.9"/>
<line x1="445.72" y1="505.80" x2="445.72" y2="507.40" stroke="#2b2b2b" stroke-width="0.5"/>
<line x1="449.60" y1="505.80" x2="449.60" y2="507.40" stroke="#2b2b2b" stroke-width="0.5"/>
<line x1="452.35" y1="505.80" x2="452.35" y2="507.40" stroke="#2b2b2b" stroke-width="0.5"/>
<line x1="454.48" y1="505.80" x2="454.48" y2="507.40" stroke="#2b2b2b" stroke-width="0.5"/>
<line x1="456.22" y1="505.80" x2="456.22" y2="507.40" stroke="#2b2b2b" stroke-width="0.5"/>
<line x1="457.69" y1="505.80" x2="457.69" y2="507.40" stroke="#2b2b2b" stroke-width="0.5"/>
<line x1="458.97" y1="505.80" x2="458.97" y2="507.40" stroke="#2b2b2b" stroke-width="0.5"/>
<line x1="460.09" y1="505.80" x2="460.09" y2="507.40" stroke="#2b2b2b" stroke-width="0.5"/>
<line x1="467.12" y1="505.80" x2="467.12" y2="507.40" stroke="#2b2b2b" stroke-width="0.5"/>
<line x1="470.64" y1="505.80" x2="470.64" y2="507.40" stroke="#2b2b2b" stroke-width="0.5"/>
<line x1="473.14" y1="505.80" x2="473.14" y2="507.40" stroke="#2b2b2b" stroke-width="0.5"/>
<line x1="475.08" y1="505.80" x2="475.08" y2="507.40" stroke="#2b2b2b" stroke-width="0.5"/>
<line x1="476.66" y1="505.80" x2="476.66" y2="507.40" stroke="#2b2b2b" stroke-width="0.5"/>
<line x1="478.00" y1="505.80" x2="478.00" y2="507.40" stroke="#2b2b2b" stroke-width="0.5"/>
<line x1="479.16" y1="505.80" x2="479.16" y2="507.40" stroke="#2b2b2b" stroke-width="0.5"/>
<line x1="480.18" y1="505.80" x2="480.18" y2="507.40" stroke="#2b2b2b" stroke-width="0.5"/>
<line x1="428.62" y1="505.80" x2="428.62" y2="507.40" stroke="#2b2b2b" stroke-width="0.5"/>
<line x1="431.26" y1="505.80" x2="431.26" y2="507.40" stroke="#2b2b2b" stroke-width="0.5"/>
<line x1="433.13" y1="505.80" x2="433.13" y2="507.40" stroke="#2b2b2b" stroke-width="0.5"/>
<line x1="434.58" y1="505.80" x2="434.58" y2="507.40" stroke="#2b2b2b" stroke-width="0.5"/>
<line x1="435.77" y1="505.80" x2="435.77" y2="507.40" stroke="#2b2b2b" stroke-width="0.5"/>
<line x1="436.78" y1="505.80" x2="436.78" y2="507.40" stroke="#2b2b2b" stroke-width="0.5"/>
<line x1="437.65" y1="505.80" x2="437.65" y2="507.40" stroke="#2b2b2b" stroke-width="0.5"/>
<line x1="438.41" y1="505.80" x2="438.41" y2="507.40" stroke="#2b2b2b" stroke-width="0.5"/>
<line x1="419.89" y1="505.80" x2="419.89" y2="507.40" stroke="#2b2b2b" stroke-width="0.5"/>
<line x1="417.42" y1="505.80" x2="417.42" y2="507.40" stroke="#2b2b2b" stroke-width="0.5"/>
<line x1="415.67" y1="505.80" x2="415.67" y2="507.40" stroke="#2b2b2b" stroke-width="0.5"/>
<line x1="414.31" y1="505.80" x2="414.31" y2="507.40" stroke="#2b2b2b" stroke-width="0.5"/>
<line x1="413.21" y1="505.80" x2="413.21" y2="507.40" stroke="#2b2b2b" stroke-width="0.5"/>
<line x1="412.27" y1="505.80" x2="412.27" y2="507.40" stroke="#2b2b2b" stroke-width="0.5"/>
<line x1="411.46" y1="505.80" x2="411.46" y2="507.40" stroke="#2b2b2b" stroke-width="0.5"/>
<line x1="410.74" y1="505.80" x2="410.74" y2="507.40" stroke="#2b2b2b" stroke-width="0.5"/>
<rect x="421.10" y="505.00" width="5" height="2.2" fill="#111"/>
<text x="402.00" y="519.90" font-size="7.1" text-anchor="start" textLength="14.50" lengthAdjust="spacingAndGlyphs" fill="#222" stroke="#222" stroke-width="0.28">-10<tspan font-size="72%" dy="-2.7">3</tspan></text>
<text x="424.20" y="519.90" font-size="7.1" text-anchor="middle" fill="#222" stroke="#222" stroke-width="0.28">0</text>
<text x="434.30" y="519.90" font-size="7.1" text-anchor="start" textLength="10.30" lengthAdjust="spacingAndGlyphs" fill="#222" stroke="#222" stroke-width="0.28">10<tspan font-size="72%" dy="-2.7">3</tspan></text>
<text x="455.60" y="519.90" font-size="7.1" text-anchor="start" textLength="11.30" lengthAdjust="spacingAndGlyphs" fill="#222" stroke="#222" stroke-width="0.28">10<tspan font-size="72%" dy="-2.7">4</tspan></text>
<text x="476.00" y="519.90" font-size="7.1" text-anchor="start" textLength="11.20" lengthAdjust="spacingAndGlyphs" fill="#222" stroke="#222" stroke-width="0.28">10<tspan font-size="72%" dy="-2.7">5</tspan></text>
<text x="447.60" y="532.90" font-size="9.9" text-anchor="middle" textLength="25.00" lengthAdjust="spacingAndGlyphs" fill="#222" stroke="#222" stroke-width="0.28">FITC-A</text>
<rect x="405.60" y="546.60" width="83.60" height="115.20" fill="none" stroke="#2b2b2b" stroke-width="1.3"/>
<line x1="402.40" y1="661.80" x2="405.60" y2="661.80" stroke="#2b2b2b" stroke-width="0.9"/>
<text x="399.20" y="664.50" font-size="7.7" text-anchor="end" fill="#222" stroke="#222" stroke-width="0.28">0</text>
<line x1="402.40" y1="629.40" x2="405.60" y2="629.40" stroke="#2b2b2b" stroke-width="0.9"/>
<text x="399.20" y="632.10" font-size="7.7" text-anchor="end" fill="#222" stroke="#222" stroke-width="0.28">0.5</text>
<line x1="402.40" y1="597.00" x2="405.60" y2="597.00" stroke="#2b2b2b" stroke-width="0.9"/>
<text x="399.20" y="599.70" font-size="7.7" text-anchor="end" fill="#222" stroke="#222" stroke-width="0.28">1.0</text>
<line x1="402.40" y1="564.60" x2="405.60" y2="564.60" stroke="#2b2b2b" stroke-width="0.9"/>
<text x="399.20" y="567.30" font-size="7.7" text-anchor="end" fill="#222" stroke="#222" stroke-width="0.28">1.5</text>
<line x1="404.00" y1="655.32" x2="405.60" y2="655.32" stroke="#2b2b2b" stroke-width="0.6"/>
<line x1="404.00" y1="648.84" x2="405.60" y2="648.84" stroke="#2b2b2b" stroke-width="0.6"/>
<line x1="404.00" y1="642.36" x2="405.60" y2="642.36" stroke="#2b2b2b" stroke-width="0.6"/>
<line x1="404.00" y1="635.88" x2="405.60" y2="635.88" stroke="#2b2b2b" stroke-width="0.6"/>
<line x1="404.00" y1="622.92" x2="405.60" y2="622.92" stroke="#2b2b2b" stroke-width="0.6"/>
<line x1="404.00" y1="616.44" x2="405.60" y2="616.44" stroke="#2b2b2b" stroke-width="0.6"/>
<line x1="404.00" y1="609.96" x2="405.60" y2="609.96" stroke="#2b2b2b" stroke-width="0.6"/>
<line x1="404.00" y1="603.48" x2="405.60" y2="603.48" stroke="#2b2b2b" stroke-width="0.6"/>
<line x1="404.00" y1="590.52" x2="405.60" y2="590.52" stroke="#2b2b2b" stroke-width="0.6"/>
<line x1="404.00" y1="584.04" x2="405.60" y2="584.04" stroke="#2b2b2b" stroke-width="0.6"/>
<line x1="404.00" y1="577.56" x2="405.60" y2="577.56" stroke="#2b2b2b" stroke-width="0.6"/>
<line x1="404.00" y1="571.08" x2="405.60" y2="571.08" stroke="#2b2b2b" stroke-width="0.6"/>
<line x1="409.60" y1="661.80" x2="409.60" y2="664.40" stroke="#2b2b2b" stroke-width="0.9"/>
<line x1="423.80" y1="661.80" x2="423.80" y2="664.40" stroke="#2b2b2b" stroke-width="0.9"/>
<line x1="438.80" y1="661.80" x2="438.80" y2="664.40" stroke="#2b2b2b" stroke-width="0.9"/>
<line x1="460.60" y1="661.80" x2="460.60" y2="664.40" stroke="#2b2b2b" stroke-width="0.9"/>
<line x1="480.60" y1="661.80" x2="480.60" y2="664.40" stroke="#2b2b2b" stroke-width="0.9"/>
<line x1="445.72" y1="661.80" x2="445.72" y2="663.40" stroke="#2b2b2b" stroke-width="0.5"/>
<line x1="449.60" y1="661.80" x2="449.60" y2="663.40" stroke="#2b2b2b" stroke-width="0.5"/>
<line x1="452.35" y1="661.80" x2="452.35" y2="663.40" stroke="#2b2b2b" stroke-width="0.5"/>
<line x1="454.48" y1="661.80" x2="454.48" y2="663.40" stroke="#2b2b2b" stroke-width="0.5"/>
<line x1="456.22" y1="661.80" x2="456.22" y2="663.40" stroke="#2b2b2b" stroke-width="0.5"/>
<line x1="457.69" y1="661.80" x2="457.69" y2="663.40" stroke="#2b2b2b" stroke-width="0.5"/>
<line x1="458.97" y1="661.80" x2="458.97" y2="663.40" stroke="#2b2b2b" stroke-width="0.5"/>
<line x1="460.09" y1="661.80" x2="460.09" y2="663.40" stroke="#2b2b2b" stroke-width="0.5"/>
<line x1="467.12" y1="661.80" x2="467.12" y2="663.40" stroke="#2b2b2b" stroke-width="0.5"/>
<line x1="470.64" y1="661.80" x2="470.64" y2="663.40" stroke="#2b2b2b" stroke-width="0.5"/>
<line x1="473.14" y1="661.80" x2="473.14" y2="663.40" stroke="#2b2b2b" stroke-width="0.5"/>
<line x1="475.08" y1="661.80" x2="475.08" y2="663.40" stroke="#2b2b2b" stroke-width="0.5"/>
<line x1="476.66" y1="661.80" x2="476.66" y2="663.40" stroke="#2b2b2b" stroke-width="0.5"/>
<line x1="478.00" y1="661.80" x2="478.00" y2="663.40" stroke="#2b2b2b" stroke-width="0.5"/>
<line x1="479.16" y1="661.80" x2="479.16" y2="663.40" stroke="#2b2b2b" stroke-width="0.5"/>
<line x1="480.18" y1="661.80" x2="480.18" y2="663.40" stroke="#2b2b2b" stroke-width="0.5"/>
<line x1="428.62" y1="661.80" x2="428.62" y2="663.40" stroke="#2b2b2b" stroke-width="0.5"/>
<line x1="431.26" y1="661.80" x2="431.26" y2="663.40" stroke="#2b2b2b" stroke-width="0.5"/>
<line x1="433.13" y1="661.80" x2="433.13" y2="663.40" stroke="#2b2b2b" stroke-width="0.5"/>
<line x1="434.58" y1="661.80" x2="434.58" y2="663.40" stroke="#2b2b2b" stroke-width="0.5"/>
<line x1="435.77" y1="661.80" x2="435.77" y2="663.40" stroke="#2b2b2b" stroke-width="0.5"/>
<line x1="436.78" y1="661.80" x2="436.78" y2="663.40" stroke="#2b2b2b" stroke-width="0.5"/>
<line x1="437.65" y1="661.80" x2="437.65" y2="663.40" stroke="#2b2b2b" stroke-width="0.5"/>
<line x1="438.41" y1="661.80" x2="438.41" y2="663.40" stroke="#2b2b2b" stroke-width="0.5"/>
<line x1="419.89" y1="661.80" x2="419.89" y2="663.40" stroke="#2b2b2b" stroke-width="0.5"/>
<line x1="417.42" y1="661.80" x2="417.42" y2="663.40" stroke="#2b2b2b" stroke-width="0.5"/>
<line x1="415.67" y1="661.80" x2="415.67" y2="663.40" stroke="#2b2b2b" stroke-width="0.5"/>
<line x1="414.31" y1="661.80" x2="414.31" y2="663.40" stroke="#2b2b2b" stroke-width="0.5"/>
<line x1="413.21" y1="661.80" x2="413.21" y2="663.40" stroke="#2b2b2b" stroke-width="0.5"/>
<line x1="412.27" y1="661.80" x2="412.27" y2="663.40" stroke="#2b2b2b" stroke-width="0.5"/>
<line x1="411.46" y1="661.80" x2="411.46" y2="663.40" stroke="#2b2b2b" stroke-width="0.5"/>
<line x1="410.74" y1="661.80" x2="410.74" y2="663.40" stroke="#2b2b2b" stroke-width="0.5"/>
<rect x="421.10" y="661.00" width="5" height="2.2" fill="#111"/>
<text x="402.00" y="675.90" font-size="7.1" text-anchor="start" textLength="14.50" lengthAdjust="spacingAndGlyphs" fill="#222" stroke="#222" stroke-width="0.28">-10<tspan font-size="72%" dy="-2.7">3</tspan></text>
<text x="424.20" y="675.90" font-size="7.1" text-anchor="middle" fill="#222" stroke="#222" stroke-width="0.28">0</text>
<text x="434.30" y="675.90" font-size="7.1" text-anchor="start" textLength="10.30" lengthAdjust="spacingAndGlyphs" fill="#222" stroke="#222" stroke-width="0.28">10<tspan font-size="72%" dy="-2.7">3</tspan></text>
<text x="455.60" y="675.90" font-size="7.1" text-anchor="start" textLength="11.30" lengthAdjust="spacingAndGlyphs" fill="#222" stroke="#222" stroke-width="0.28">10<tspan font-size="72%" dy="-2.7">4</tspan></text>
<text x="476.00" y="675.90" font-size="7.1" text-anchor="start" textLength="11.20" lengthAdjust="spacingAndGlyphs" fill="#222" stroke="#222" stroke-width="0.28">10<tspan font-size="72%" dy="-2.7">5</tspan></text>
<text x="447.60" y="689.00" font-size="9.9" text-anchor="middle" textLength="35.50" lengthAdjust="spacingAndGlyphs" fill="#222" stroke="#222" stroke-width="0.28">UVBlue-A</text>
<text x="447.80" y="386.00" font-size="8.2" text-anchor="middle" font-weight="bold" textLength="25.00" lengthAdjust="spacingAndGlyphs" fill="#111" stroke="#111" stroke-width="0.22">KMS11</text>
<text transform="translate(33.70,448.10) rotate(-90)" font-size="10.2" text-anchor="middle" textLength="13.75" lengthAdjust="spacingAndGlyphs" fill="#222" stroke="#222" stroke-width="0.28">FAD</text>
<text transform="translate(33.70,604.50) rotate(-90)" font-size="10.2" text-anchor="middle" textLength="33.50" lengthAdjust="spacingAndGlyphs" fill="#222" stroke="#222" stroke-width="0.28">NAD(P)H</text>
<path d="M80,505.5 L82,480 L83.6,450 L84.6,420 L85.7,399 L86.5,402 L87.5,415 L89.6,432 L91,455 L93,480 L95,500 L97,505.5 Z" fill="#d46a88" stroke="#9c1a40" stroke-width="0.8" stroke-linejoin="round"/>
<path d="M82,505.5 L85,490 L87,470 L89,445 L90.5,428 L92.4,417.6 L93.2,421 L94.3,427 L95.5,440 L96.7,450 L98.5,470 L100.5,490 L103.7,505.5 Z" fill="rgba(186,208,236,0.8)" stroke="#7fa6d2" stroke-width="0.7" stroke-linejoin="round"/>
<path d="M195.2,505.5 L197,480 L198.2,450 L199.5,420 L200.7,399.2 L201.5,405 L202.5,425 L203.3,440 L204.5,460 L206,485 L208,505.5 Z" fill="#d46a88" stroke="#9c1a40" stroke-width="0.8" stroke-linejoin="round"/>
<path d="M196.5,505.5 L199,485 L201.5,460 L203.5,440 L205.5,426 L206.3,429 L207.3,430.2 L208.5,450 L210.5,475 L213,495 L217.3,505.5 Z" fill="rgba(186,208,236,0.8)" stroke="#7fa6d2" stroke-width="0.7" stroke-linejoin="round"/>
<path d="M310,505.5 L311,450 L311.6,420 L312.4,397.5 L313.2,420 L314.2,440 L315,470 L316.5,495 L318,505.5 Z" fill="#d46a88" stroke="#9c1a40" stroke-width="0.8" stroke-linejoin="round"/>
<path d="M310.5,505.5 L311.5,460 L312.4,432 L315.2,432 L315.6,450 L317.5,470 L320.3,490 L323,500 L326.9,505.5 Z" fill="rgba(186,208,236,0.8)" stroke="#7fa6d2" stroke-width="0.7" stroke-linejoin="round"/>
<path d="M426,505.5 L427.4,450 L428.5,420 L429.5,396.4 L430.5,420 L432,440 L433,465 L434.5,490 L436,505.5 Z" fill="#d46a88" stroke="#9c1a40" stroke-width="0.8" stroke-linejoin="round"/>
<path d="M426.5,505.5 L428,460 L430.2,432 L433,432 L434.5,450 L436.5,470 L439,490 L442,500 L444.7,505.5 Z" fill="rgba(186,208,236,0.8)" stroke="#7fa6d2" stroke-width="0.7" stroke-linejoin="round"/>
<path d="M79.4,661.75 L80.2,648 L80.8,634 L81.3,626.5 L81.9,627 L82.7,634 L83.6,646 L84.6,656 L86,661.75 Z" fill="#d46a88" stroke="#9c1a40" stroke-width="0.8" stroke-linejoin="round"/>
<path d="M76.3,661.75 L77.6,600 L78,560.5 L78.5,600 L79.1,661.75 Z" fill="rgba(186,208,236,0.8)" stroke="#6f9bd0" stroke-width="0.9" stroke-linejoin="round"/>
<path d="M193.8,661.75 L194.3,620 L194.8,602.5 L195.5,605 L196.5,625 L197.5,645 L199.2,661.75 Z" fill="#d46a88" stroke="#9c1a40" stroke-width="0.8" stroke-linejoin="round"/>
<path d="M192.2,661.75 L193.2,600 L193.6,566 L194.2,600 L195,661.75 Z" fill="rgba(186,208,236,0.8)" stroke="#6f9bd0" stroke-width="0.9" stroke-linejoin="round"/>
<path d="M308.8,661.75 L309.5,600 L310.2,571 L311,600 L312,640 L313,655 L314.7,661.75 Z" fill="#d46a88" stroke="#9c1a40" stroke-width="0.8" stroke-linejoin="round"/>
<path d="M308.2,661.75 L309.2,600 L309.6,558.4 L310.2,580 L311,661.75 Z" fill="rgba(186,208,236,0.8)" stroke="#6f9bd0" stroke-width="0.9" stroke-linejoin="round"/>
<path d="M425,661.75 L426.2,610 L427,581.4 L428,600 L429.5,630 L430.5,650 L431.6,661.75 Z" fill="#d46a88" stroke="#9c1a40" stroke-width="0.8" stroke-linejoin="round"/>
<path d="M424,661.75 L425.5,600 L426.1,556.1 L426.7,590 L428,661.75 Z" fill="rgba(186,208,236,0.8)" stroke="#6f9bd0" stroke-width="0.9" stroke-linejoin="round"/>
<line x1="56.50" y1="713.50" x2="56.50" y2="847.30" stroke="#2a2a2a" stroke-width="1.1"/>
<line x1="53.00" y1="846.80" x2="56.50" y2="846.80" stroke="#2a2a2a" stroke-width="1"/>
<text x="49.80" y="848.70" font-size="7.7" text-anchor="end" textLength="10.70" lengthAdjust="spacingAndGlyphs" fill="#222" stroke="#222" stroke-width="0.28">0.0</text>
<line x1="53.00" y1="814.35" x2="56.50" y2="814.35" stroke="#2a2a2a" stroke-width="1"/>
<text x="49.80" y="816.25" font-size="7.7" text-anchor="end" textLength="10.70" lengthAdjust="spacingAndGlyphs" fill="#222" stroke="#222" stroke-width="0.28">0.5</text>
<line x1="53.00" y1="781.90" x2="56.50" y2="781.90" stroke="#2a2a2a" stroke-width="1"/>
<text x="49.80" y="783.80" font-size="7.7" text-anchor="end" textLength="10.70" lengthAdjust="spacingAndGlyphs" fill="#222" stroke="#222" stroke-width="0.28">1.0</text>
<line x1="53.00" y1="749.45" x2="56.50" y2="749.45" stroke="#2a2a2a" stroke-width="1"/>
<text x="49.80" y="751.35" font-size="7.7" text-anchor="end" textLength="10.70" lengthAdjust="spacingAndGlyphs" fill="#222" stroke="#222" stroke-width="0.28">1.5</text>
<line x1="53.00" y1="717.00" x2="56.50" y2="717.00" stroke="#2a2a2a" stroke-width="1"/>
<text x="49.80" y="718.90" font-size="7.7" text-anchor="end" textLength="10.70" lengthAdjust="spacingAndGlyphs" fill="#222" stroke="#222" stroke-width="0.28">2.0</text>
<rect x="67.00" y="781.90" width="37.20" height="64.90" fill="#a4002a"/>
<rect x="110.60" y="739.39" width="37.30" height="107.41" fill="#6aa9de"/>
<line x1="129.25" y1="739.39" x2="129.25" y2="733.22" stroke="#333" stroke-width="1"/>
<line x1="122.35" y1="733.22" x2="136.15" y2="733.22" stroke="#333" stroke-width="1.3"/>
<text x="129.25" y="732.02" font-size="9.2" text-anchor="middle" textLength="11.00" lengthAdjust="spacingAndGlyphs" fill="#222" stroke="#222" stroke-width="0.28">***</text>
<rect x="166.00" y="781.90" width="37.20" height="64.90" fill="#a4002a"/>
<rect x="209.60" y="741.34" width="37.40" height="105.46" fill="#6aa9de"/>
<line x1="228.30" y1="741.34" x2="228.30" y2="739.07" stroke="#333" stroke-width="1"/>
<line x1="221.40" y1="739.07" x2="235.20" y2="739.07" stroke="#333" stroke-width="1.3"/>
<text x="228.30" y="737.87" font-size="9.2" text-anchor="middle" textLength="11.00" lengthAdjust="spacingAndGlyphs" fill="#222" stroke="#222" stroke-width="0.28">***</text>
<rect x="272.60" y="781.90" width="37.30" height="64.90" fill="#a4002a"/>
<rect x="316.80" y="772.81" width="37.20" height="73.99" fill="#6aa9de"/>
<line x1="335.40" y1="772.81" x2="335.40" y2="764.05" stroke="#333" stroke-width="1"/>
<line x1="328.50" y1="764.05" x2="342.30" y2="764.05" stroke="#333" stroke-width="1.3"/>
<rect x="371.80" y="781.90" width="37.20" height="64.90" fill="#a4002a"/>
<rect x="415.50" y="770.22" width="37.30" height="76.58" fill="#6aa9de"/>
<line x1="434.15" y1="770.22" x2="434.15" y2="763.73" stroke="#333" stroke-width="1"/>
<line x1="427.25" y1="763.73" x2="441.05" y2="763.73" stroke="#333" stroke-width="1.3"/>
<line x1="56.00" y1="846.80" x2="465.00" y2="846.80" stroke="#333" stroke-width="1.2"/>
<text transform="translate(17.30,781.50) rotate(-90)" font-size="10.3" text-anchor="middle" textLength="51.80" lengthAdjust="spacingAndGlyphs" fill="#222" stroke="#222" stroke-width="0.28">Mean relative</text>
<text transform="translate(29.20,781.50) rotate(-90)" font-size="10.3" text-anchor="middle" textLength="84.50" lengthAdjust="spacingAndGlyphs" fill="#222" stroke="#222" stroke-width="0.28">FAD autofluorescence</text>
<text x="85.40" y="857.50" font-size="8.4" text-anchor="middle" textLength="22.90" lengthAdjust="spacingAndGlyphs" fill="#222" stroke="#222" stroke-width="0.28">RPMI-</text>
<text x="85.40" y="867.20" font-size="8.4" text-anchor="middle" textLength="18.00" lengthAdjust="spacingAndGlyphs" fill="#222" stroke="#222" stroke-width="0.28">8226</text>
<text x="129.30" y="857.50" font-size="8.4" text-anchor="middle" textLength="22.50" lengthAdjust="spacingAndGlyphs" fill="#222" stroke="#222" stroke-width="0.28">RPMI-</text>
<text x="129.30" y="867.20" font-size="8.4" text-anchor="middle" textLength="25.20" lengthAdjust="spacingAndGlyphs" fill="#222" stroke="#222" stroke-width="0.28">8226 +</text>
<text x="129.30" y="876.90" font-size="8.4" text-anchor="middle" textLength="18.30" lengthAdjust="spacingAndGlyphs" fill="#222" stroke="#222" stroke-width="0.28">H<tspan font-size="72%" dy="1.9">2</tspan><tspan dy="-1.9">O</tspan><tspan font-size="72%" dy="1.9">2</tspan></text>
<text x="184.70" y="857.50" font-size="8.4" text-anchor="middle" textLength="18.50" lengthAdjust="spacingAndGlyphs" fill="#222" stroke="#222" stroke-width="0.28">JJN3</text>
<text x="228.30" y="857.50" font-size="8.4" text-anchor="middle" textLength="25.00" lengthAdjust="spacingAndGlyphs" fill="#222" stroke="#222" stroke-width="0.28">JJN3 +</text>
<text x="228.30" y="867.20" font-size="8.4" text-anchor="middle" textLength="18.30" lengthAdjust="spacingAndGlyphs" fill="#222" stroke="#222" stroke-width="0.28">H<tspan font-size="72%" dy="1.9">2</tspan><tspan dy="-1.9">O</tspan><tspan font-size="72%" dy="1.9">2</tspan></text>
<text x="291.20" y="857.50" font-size="8.4" text-anchor="middle" textLength="24.50" lengthAdjust="spacingAndGlyphs" fill="#222" stroke="#222" stroke-width="0.28">MM.1S</text>
<text x="335.40" y="857.50" font-size="8.4" text-anchor="middle" textLength="33.00" lengthAdjust="spacingAndGlyphs" fill="#222" stroke="#222" stroke-width="0.28">MM.1S +</text>
<text x="335.40" y="867.20" font-size="8.4" text-anchor="middle" textLength="18.30" lengthAdjust="spacingAndGlyphs" fill="#222" stroke="#222" stroke-width="0.28">H<tspan font-size="72%" dy="1.9">2</tspan><tspan dy="-1.9">O</tspan><tspan font-size="72%" dy="1.9">2</tspan></text>
<text x="390.40" y="857.50" font-size="8.4" text-anchor="middle" textLength="25.00" lengthAdjust="spacingAndGlyphs" fill="#222" stroke="#222" stroke-width="0.28">KMS11</text>
<text x="434.10" y="857.50" font-size="8.4" text-anchor="middle" textLength="34.00" lengthAdjust="spacingAndGlyphs" fill="#222" stroke="#222" stroke-width="0.28">KMS11 +</text>
<text x="434.10" y="867.20" font-size="8.4" text-anchor="middle" textLength="18.30" lengthAdjust="spacingAndGlyphs" fill="#222" stroke="#222" stroke-width="0.28">H<tspan font-size="72%" dy="1.9">2</tspan><tspan dy="-1.9">O</tspan><tspan font-size="72%" dy="1.9">2</tspan></text>
<line x1="56.50" y1="908.50" x2="56.50" y2="1042.80" stroke="#2a2a2a" stroke-width="1.1"/>
<line x1="53.00" y1="1042.30" x2="56.50" y2="1042.30" stroke="#2a2a2a" stroke-width="1"/>
<text x="49.80" y="1044.50" font-size="7.7" text-anchor="end" fill="#222" stroke="#222" stroke-width="0.28">0.0</text>
<line x1="53.00" y1="1009.80" x2="56.50" y2="1009.80" stroke="#2a2a2a" stroke-width="1"/>
<text x="49.80" y="1012.00" font-size="7.7" text-anchor="end" fill="#222" stroke="#222" stroke-width="0.28">0.25</text>
<line x1="53.00" y1="977.30" x2="56.50" y2="977.30" stroke="#2a2a2a" stroke-width="1"/>
<text x="49.80" y="979.50" font-size="7.7" text-anchor="end" fill="#222" stroke="#222" stroke-width="0.28">0.5</text>
<line x1="53.00" y1="944.80" x2="56.50" y2="944.80" stroke="#2a2a2a" stroke-width="1"/>
<text x="49.80" y="947.00" font-size="7.7" text-anchor="end" fill="#222" stroke="#222" stroke-width="0.28">0.75</text>
<line x1="53.00" y1="912.30" x2="56.50" y2="912.30" stroke="#2a2a2a" stroke-width="1"/>
<text x="49.80" y="914.50" font-size="7.7" text-anchor="end" fill="#222" stroke="#222" stroke-width="0.28">1.0</text>
<rect x="66.60" y="912.30" width="37.20" height="130.00" fill="#a4002a"/>
<rect x="110.10" y="999.40" width="37.40" height="42.90" fill="#6aa9de"/>
<line x1="128.80" y1="999.40" x2="128.80" y2="988.35" stroke="#333" stroke-width="1"/>
<line x1="121.90" y1="988.35" x2="135.70" y2="988.35" stroke="#333" stroke-width="1.3"/>
<text x="128.80" y="987.15" font-size="9.2" text-anchor="middle" textLength="11.00" lengthAdjust="spacingAndGlyphs" fill="#222" stroke="#222" stroke-width="0.28">***</text>
<rect x="165.80" y="912.30" width="37.20" height="130.00" fill="#a4002a"/>
<rect x="209.30" y="993.16" width="37.40" height="49.14" fill="#6aa9de"/>
<line x1="228.00" y1="993.16" x2="228.00" y2="987.70" stroke="#333" stroke-width="1"/>
<line x1="221.10" y1="987.70" x2="234.90" y2="987.70" stroke="#333" stroke-width="1.3"/>
<text x="228.00" y="986.50" font-size="9.2" text-anchor="middle" textLength="11.00" lengthAdjust="spacingAndGlyphs" fill="#222" stroke="#222" stroke-width="0.28">***</text>
<rect x="272.50" y="912.30" width="36.80" height="130.00" fill="#a4002a"/>
<rect x="316.50" y="967.81" width="37.50" height="74.49" fill="#6aa9de"/>
<line x1="335.25" y1="967.81" x2="335.25" y2="962.48" stroke="#333" stroke-width="1"/>
<line x1="328.35" y1="962.48" x2="342.15" y2="962.48" stroke="#333" stroke-width="1.3"/>
<text x="335.25" y="961.28" font-size="9.2" text-anchor="middle" textLength="7.50" lengthAdjust="spacingAndGlyphs" fill="#222" stroke="#222" stroke-width="0.28">**</text>
<rect x="371.80" y="912.30" width="37.00" height="130.00" fill="#a4002a"/>
<rect x="415.00" y="969.50" width="37.00" height="72.80" fill="#6aa9de"/>
<line x1="433.50" y1="969.50" x2="433.50" y2="966.25" stroke="#333" stroke-width="1"/>
<line x1="426.60" y1="966.25" x2="440.40" y2="966.25" stroke="#333" stroke-width="1.3"/>
<text x="433.50" y="965.05" font-size="9.2" text-anchor="middle" textLength="7.50" lengthAdjust="spacingAndGlyphs" fill="#222" stroke="#222" stroke-width="0.28">**</text>
<line x1="56.00" y1="1042.30" x2="463.50" y2="1042.30" stroke="#333" stroke-width="1.2"/>
<text transform="translate(17.10,977.30) rotate(-90)" font-size="10.3" text-anchor="middle" textLength="51.50" lengthAdjust="spacingAndGlyphs" fill="#222" stroke="#222" stroke-width="0.28">Mean relative</text>
<text transform="translate(28.80,977.30) rotate(-90)" font-size="10.3" text-anchor="middle" textLength="104.50" lengthAdjust="spacingAndGlyphs" fill="#222" stroke="#222" stroke-width="0.28">NAD(P)H autofluorescence</text>
<text x="85.40" y="1053.40" font-size="8.4" text-anchor="middle" textLength="22.90" lengthAdjust="spacingAndGlyphs" fill="#222" stroke="#222" stroke-width="0.28">RPMI-</text>
<text x="85.40" y="1063.10" font-size="8.4" text-anchor="middle" textLength="18.00" lengthAdjust="spacingAndGlyphs" fill="#222" stroke="#222" stroke-width="0.28">8226</text>
<text x="129.30" y="1053.40" font-size="8.4" text-anchor="middle" textLength="22.50" lengthAdjust="spacingAndGlyphs" fill="#222" stroke="#222" stroke-width="0.28">RPMI-</text>
<text x="129.30" y="1063.10" font-size="8.4" text-anchor="middle" textLength="25.20" lengthAdjust="spacingAndGlyphs" fill="#222" stroke="#222" stroke-width="0.28">8226 +</text>
<text x="129.30" y="1072.80" font-size="8.4" text-anchor="middle" textLength="18.30" lengthAdjust="spacingAndGlyphs" fill="#222" stroke="#222" stroke-width="0.28">H<tspan font-size="72%" dy="1.9">2</tspan><tspan dy="-1.9">O</tspan><tspan font-size="72%" dy="1.9">2</tspan></text>
<text x="184.70" y="1053.40" font-size="8.4" text-anchor="middle" textLength="18.50" lengthAdjust="spacingAndGlyphs" fill="#222" stroke="#222" stroke-width="0.28">JJN3</text>
<text x="228.30" y="1053.40" font-size="8.4" text-anchor="middle" textLength="25.00" lengthAdjust="spacingAndGlyphs" fill="#222" stroke="#222" stroke-width="0.28">JJN3 +</text>
<text x="228.30" y="1063.10" font-size="8.4" text-anchor="middle" textLength="18.30" lengthAdjust="spacingAndGlyphs" fill="#222" stroke="#222" stroke-width="0.28">H<tspan font-size="72%" dy="1.9">2</tspan><tspan dy="-1.9">O</tspan><tspan font-size="72%" dy="1.9">2</tspan></text>
<text x="291.20" y="1053.40" font-size="8.4" text-anchor="middle" textLength="24.50" lengthAdjust="spacingAndGlyphs" fill="#222" stroke="#222" stroke-width="0.28">MM.1S</text>
<text x="335.40" y="1053.40" font-size="8.4" text-anchor="middle" textLength="33.00" lengthAdjust="spacingAndGlyphs" fill="#222" stroke="#222" stroke-width="0.28">MM.1S +</text>
<text x="335.40" y="1063.10" font-size="8.4" text-anchor="middle" textLength="18.30" lengthAdjust="spacingAndGlyphs" fill="#222" stroke="#222" stroke-width="0.28">H<tspan font-size="72%" dy="1.9">2</tspan><tspan dy="-1.9">O</tspan><tspan font-size="72%" dy="1.9">2</tspan></text>
<text x="390.40" y="1053.40" font-size="8.4" text-anchor="middle" textLength="25.00" lengthAdjust="spacingAndGlyphs" fill="#222" stroke="#222" stroke-width="0.28">KMS11</text>
<text x="434.10" y="1053.40" font-size="8.4" text-anchor="middle" textLength="34.00" lengthAdjust="spacingAndGlyphs" fill="#222" stroke="#222" stroke-width="0.28">KMS11 +</text>
<text x="434.10" y="1063.10" font-size="8.4" text-anchor="middle" textLength="18.30" lengthAdjust="spacingAndGlyphs" fill="#222" stroke="#222" stroke-width="0.28">H<tspan font-size="72%" dy="1.9">2</tspan><tspan dy="-1.9">O</tspan><tspan font-size="72%" dy="1.9">2</tspan></text>
<text x="69.70" y="1104.60" font-size="8.6" text-anchor="start" font-weight="bold" textLength="136.50" lengthAdjust="spacingAndGlyphs" fill="#111" stroke="#111" stroke-width="0.22">Patient 1 Sample (CD138+ Cells):</text>
<text x="32.00" y="1115.10" font-size="8.6" text-anchor="start" font-weight="bold" textLength="212.20" lengthAdjust="spacingAndGlyphs" fill="#111" stroke="#111" stroke-width="0.22">Relapsed form Lenalidomide Maintenance Therapy</text>
<text x="328.00" y="1104.60" font-size="8.6" text-anchor="start" font-weight="bold" textLength="113.20" lengthAdjust="spacingAndGlyphs" fill="#111" stroke="#111" stroke-width="0.22">Patient 2 Sample (CD138+):</text>
<text x="330.50" y="1115.10" font-size="8.6" text-anchor="start" font-weight="bold" textLength="108.20" lengthAdjust="spacingAndGlyphs" fill="#111" stroke="#111" stroke-width="0.22">Sensitive to Lenalidomide</text>
<line x1="57.00" y1="1128.75" x2="57.00" y2="1260.80" stroke="#2a2a2a" stroke-width="1.1"/>
<line x1="53.50" y1="1260.30" x2="57.00" y2="1260.30" stroke="#2a2a2a" stroke-width="1"/>
<text x="51.40" y="1262.50" font-size="7.7" text-anchor="end" fill="#222" stroke="#222" stroke-width="0.28">0.4</text>
<line x1="53.50" y1="1234.49" x2="57.00" y2="1234.49" stroke="#2a2a2a" stroke-width="1"/>
<text x="51.40" y="1236.69" font-size="7.7" text-anchor="end" fill="#222" stroke="#222" stroke-width="0.28">0.6</text>
<line x1="53.50" y1="1208.68" x2="57.00" y2="1208.68" stroke="#2a2a2a" stroke-width="1"/>
<text x="51.40" y="1210.88" font-size="7.7" text-anchor="end" fill="#222" stroke="#222" stroke-width="0.28">0.8</text>
<line x1="53.50" y1="1182.87" x2="57.00" y2="1182.87" stroke="#2a2a2a" stroke-width="1"/>
<text x="51.40" y="1185.07" font-size="7.7" text-anchor="end" fill="#222" stroke="#222" stroke-width="0.28">1.0</text>
<line x1="53.50" y1="1157.06" x2="57.00" y2="1157.06" stroke="#2a2a2a" stroke-width="1"/>
<text x="51.40" y="1159.26" font-size="7.7" text-anchor="end" fill="#222" stroke="#222" stroke-width="0.28">1.2</text>
<line x1="53.50" y1="1131.25" x2="57.00" y2="1131.25" stroke="#2a2a2a" stroke-width="1"/>
<text x="51.40" y="1133.45" font-size="7.7" text-anchor="end" fill="#222" stroke="#222" stroke-width="0.28">1.4</text>
<rect x="61.00" y="1182.87" width="22.00" height="77.43" fill="#a4002a"/>
<rect x="94.10" y="1157.96" width="21.10" height="102.34" fill="#6aa9de"/>
<line x1="104.65" y1="1157.96" x2="104.65" y2="1155.51" stroke="#333" stroke-width="1"/>
<line x1="98.05" y1="1155.51" x2="111.25" y2="1155.51" stroke="#333" stroke-width="1.3"/>
<text x="104.65" y="1154.51" font-size="9.2" text-anchor="middle" textLength="7.50" lengthAdjust="spacingAndGlyphs" fill="#222" stroke="#222" stroke-width="0.28">**</text>
<line x1="56.50" y1="1260.30" x2="121.50" y2="1260.30" stroke="#333" stroke-width="1.2"/>
<text x="72.00" y="1270.90" font-size="8.4" text-anchor="middle" textLength="25.60" lengthAdjust="spacingAndGlyphs" fill="#222" stroke="#222" stroke-width="0.28">Control</text>
<text x="104.65" y="1270.90" font-size="8.4" text-anchor="middle" textLength="18.80" lengthAdjust="spacingAndGlyphs" fill="#222" stroke="#222" stroke-width="0.28">H<tspan font-size="72%" dy="1.9">2</tspan><tspan dy="-1.9">O</tspan><tspan font-size="72%" dy="1.9">2</tspan></text>
<line x1="181.25" y1="1128.75" x2="181.25" y2="1261.00" stroke="#2a2a2a" stroke-width="1.1"/>
<line x1="177.75" y1="1260.50" x2="181.25" y2="1260.50" stroke="#2a2a2a" stroke-width="1"/>
<text x="175.65" y="1262.70" font-size="7.7" text-anchor="end" fill="#222" stroke="#222" stroke-width="0.28">0.80</text>
<line x1="177.75" y1="1228.19" x2="181.25" y2="1228.19" stroke="#2a2a2a" stroke-width="1"/>
<text x="175.65" y="1230.39" font-size="7.7" text-anchor="end" fill="#222" stroke="#222" stroke-width="0.28">0.85</text>
<line x1="177.75" y1="1195.88" x2="181.25" y2="1195.88" stroke="#2a2a2a" stroke-width="1"/>
<text x="175.65" y="1198.08" font-size="7.7" text-anchor="end" fill="#222" stroke="#222" stroke-width="0.28">0.90</text>
<line x1="177.75" y1="1163.56" x2="181.25" y2="1163.56" stroke="#2a2a2a" stroke-width="1"/>
<text x="175.65" y="1165.76" font-size="7.7" text-anchor="end" fill="#222" stroke="#222" stroke-width="0.28">0.95</text>
<line x1="177.75" y1="1131.25" x2="181.25" y2="1131.25" stroke="#2a2a2a" stroke-width="1"/>
<text x="175.65" y="1133.45" font-size="7.7" text-anchor="end" fill="#222" stroke="#222" stroke-width="0.28">1.00</text>
<rect x="187.25" y="1131.25" width="21.75" height="129.25" fill="#a4002a"/>
<rect x="220.25" y="1158.39" width="21.50" height="102.11" fill="#6aa9de"/>
<line x1="231.00" y1="1158.39" x2="231.00" y2="1154.19" stroke="#333" stroke-width="1"/>
<line x1="224.40" y1="1154.19" x2="237.60" y2="1154.19" stroke="#333" stroke-width="1.3"/>
<text x="231.00" y="1153.19" font-size="9.2" text-anchor="middle" textLength="7.50" lengthAdjust="spacingAndGlyphs" fill="#222" stroke="#222" stroke-width="0.28">**</text>
<line x1="180.75" y1="1260.50" x2="247.50" y2="1260.50" stroke="#333" stroke-width="1.2"/>
<text x="198.12" y="1270.90" font-size="8.4" text-anchor="middle" textLength="25.60" lengthAdjust="spacingAndGlyphs" fill="#222" stroke="#222" stroke-width="0.28">Control</text>
<text x="231.00" y="1270.90" font-size="8.4" text-anchor="middle" textLength="18.80" lengthAdjust="spacingAndGlyphs" fill="#222" stroke="#222" stroke-width="0.28">H<tspan font-size="72%" dy="1.9">2</tspan><tspan dy="-1.9">O</tspan><tspan font-size="72%" dy="1.9">2</tspan></text>
<line x1="310.50" y1="1128.50" x2="310.50" y2="1261.25" stroke="#2a2a2a" stroke-width="1.1"/>
<line x1="307.00" y1="1260.75" x2="310.50" y2="1260.75" stroke="#2a2a2a" stroke-width="1"/>
<text x="304.90" y="1262.95" font-size="7.7" text-anchor="end" fill="#222" stroke="#222" stroke-width="0.28">0.6</text>
<line x1="307.00" y1="1234.80" x2="310.50" y2="1234.80" stroke="#2a2a2a" stroke-width="1"/>
<text x="304.90" y="1237.00" font-size="7.7" text-anchor="end" fill="#222" stroke="#222" stroke-width="0.28">0.7</text>
<line x1="307.00" y1="1208.85" x2="310.50" y2="1208.85" stroke="#2a2a2a" stroke-width="1"/>
<text x="304.90" y="1211.05" font-size="7.7" text-anchor="end" fill="#222" stroke="#222" stroke-width="0.28">0.8</text>
<line x1="307.00" y1="1182.90" x2="310.50" y2="1182.90" stroke="#2a2a2a" stroke-width="1"/>
<text x="304.90" y="1185.10" font-size="7.7" text-anchor="end" fill="#222" stroke="#222" stroke-width="0.28">0.9</text>
<line x1="307.00" y1="1156.95" x2="310.50" y2="1156.95" stroke="#2a2a2a" stroke-width="1"/>
<text x="304.90" y="1159.15" font-size="7.7" text-anchor="end" fill="#222" stroke="#222" stroke-width="0.28">1.0</text>
<line x1="307.00" y1="1131.00" x2="310.50" y2="1131.00" stroke="#2a2a2a" stroke-width="1"/>
<text x="304.90" y="1133.20" font-size="7.7" text-anchor="end" fill="#222" stroke="#222" stroke-width="0.28">1.1</text>
<rect x="316.25" y="1156.95" width="21.75" height="103.80" fill="#a4002a"/>
<rect x="349.50" y="1156.17" width="21.50" height="104.58" fill="#6aa9de"/>
<line x1="360.25" y1="1156.17" x2="360.25" y2="1154.36" stroke="#333" stroke-width="1"/>
<line x1="353.65" y1="1154.36" x2="366.85" y2="1154.36" stroke="#333" stroke-width="1.3"/>
<line x1="310.00" y1="1260.75" x2="376.00" y2="1260.75" stroke="#333" stroke-width="1.2"/>
<text x="327.12" y="1270.90" font-size="8.4" text-anchor="middle" textLength="25.60" lengthAdjust="spacingAndGlyphs" fill="#222" stroke="#222" stroke-width="0.28">Control</text>
<text x="360.25" y="1270.90" font-size="8.4" text-anchor="middle" textLength="18.80" lengthAdjust="spacingAndGlyphs" fill="#222" stroke="#222" stroke-width="0.28">H<tspan font-size="72%" dy="1.9">2</tspan><tspan dy="-1.9">O</tspan><tspan font-size="72%" dy="1.9">2</tspan></text>
<line x1="439.50" y1="1128.25" x2="439.50" y2="1261.00" stroke="#2a2a2a" stroke-width="1.1"/>
<line x1="436.00" y1="1260.50" x2="439.50" y2="1260.50" stroke="#2a2a2a" stroke-width="1"/>
<text x="433.90" y="1262.70" font-size="7.7" text-anchor="end" fill="#222" stroke="#222" stroke-width="0.28">0.80</text>
<line x1="436.00" y1="1228.06" x2="439.50" y2="1228.06" stroke="#2a2a2a" stroke-width="1"/>
<text x="433.90" y="1230.26" font-size="7.7" text-anchor="end" fill="#222" stroke="#222" stroke-width="0.28">0.85</text>
<line x1="436.00" y1="1195.62" x2="439.50" y2="1195.62" stroke="#2a2a2a" stroke-width="1"/>
<text x="433.90" y="1197.83" font-size="7.7" text-anchor="end" fill="#222" stroke="#222" stroke-width="0.28">0.90</text>
<line x1="436.00" y1="1163.19" x2="439.50" y2="1163.19" stroke="#2a2a2a" stroke-width="1"/>
<text x="433.90" y="1165.39" font-size="7.7" text-anchor="end" fill="#222" stroke="#222" stroke-width="0.28">0.95</text>
<line x1="436.00" y1="1130.75" x2="439.50" y2="1130.75" stroke="#2a2a2a" stroke-width="1"/>
<text x="433.90" y="1132.95" font-size="7.7" text-anchor="end" fill="#222" stroke="#222" stroke-width="0.28">1.00</text>
<rect x="445.00" y="1130.75" width="22.00" height="129.75" fill="#a4002a"/>
<rect x="477.50" y="1141.78" width="21.40" height="118.72" fill="#6aa9de"/>
<line x1="488.20" y1="1141.78" x2="488.20" y2="1134.32" stroke="#333" stroke-width="1"/>
<line x1="481.60" y1="1134.32" x2="494.80" y2="1134.32" stroke="#333" stroke-width="1.3"/>
<line x1="439.00" y1="1260.50" x2="504.50" y2="1260.50" stroke="#333" stroke-width="1.2"/>
<text x="456.00" y="1270.90" font-size="8.4" text-anchor="middle" textLength="25.60" lengthAdjust="spacingAndGlyphs" fill="#222" stroke="#222" stroke-width="0.28">Control</text>
<text x="488.20" y="1270.90" font-size="8.4" text-anchor="middle" textLength="18.80" lengthAdjust="spacingAndGlyphs" fill="#222" stroke="#222" stroke-width="0.28">H<tspan font-size="72%" dy="1.9">2</tspan><tspan dy="-1.9">O</tspan><tspan font-size="72%" dy="1.9">2</tspan></text>
<text transform="translate(17.30,1195.60) rotate(-90)" font-size="10.3" text-anchor="middle" textLength="51.60" lengthAdjust="spacingAndGlyphs" fill="#222" stroke="#222" stroke-width="0.28">Mean relative</text>
<text transform="translate(28.90,1195.60) rotate(-90)" font-size="10.3" text-anchor="middle" textLength="84.20" lengthAdjust="spacingAndGlyphs" fill="#222" stroke="#222" stroke-width="0.28">FAD autofluorescence</text>
<text transform="translate(142.90,1195.50) rotate(-90)" font-size="10.3" text-anchor="middle" textLength="51.60" lengthAdjust="spacingAndGlyphs" fill="#222" stroke="#222" stroke-width="0.28">Mean relative</text>
<text transform="translate(154.50,1195.50) rotate(-90)" font-size="10.3" text-anchor="middle" textLength="103.50" lengthAdjust="spacingAndGlyphs" fill="#222" stroke="#222" stroke-width="0.28">NAD(P)H autofluorescence</text>
<text transform="translate(273.60,1190.50) rotate(-90)" font-size="10.3" text-anchor="middle" textLength="51.50" lengthAdjust="spacingAndGlyphs" fill="#222" stroke="#222" stroke-width="0.28">Mean relative</text>
<text transform="translate(285.00,1190.50) rotate(-90)" font-size="10.3" text-anchor="middle" textLength="84.20" lengthAdjust="spacingAndGlyphs" fill="#222" stroke="#222" stroke-width="0.28">FAD autofluorescence</text>
<text transform="translate(400.50,1195.40) rotate(-90)" font-size="10.3" text-anchor="middle" textLength="51.60" lengthAdjust="spacingAndGlyphs" fill="#222" stroke="#222" stroke-width="0.28">Mean relative</text>
<text transform="translate(412.00,1195.40) rotate(-90)" font-size="10.3" text-anchor="middle" textLength="104.00" lengthAdjust="spacingAndGlyphs" fill="#222" stroke="#222" stroke-width="0.28">NAD(P)H autofluorescence</text>
<rect x="0.5" y="0.5" width="512" height="1279" fill="none" stroke="#111" stroke-width="1"/>
<line x1="511.6" y1="0" x2="511.6" y2="1280" stroke="#111" stroke-width="0.5"/>
</svg></body></html>
